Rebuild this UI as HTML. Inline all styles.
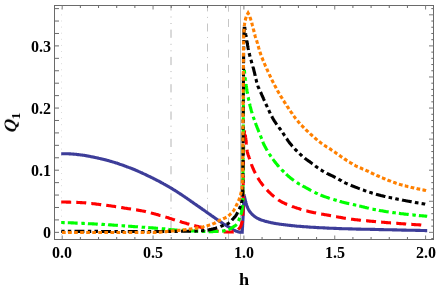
<!DOCTYPE html>
<html><head><meta charset="utf-8"><title>plot</title>
<style>
html,body{margin:0;padding:0;background:#fff;}
body{width:436px;height:290px;position:relative;overflow:hidden;font-family:"Liberation Serif",serif;}
.t{position:absolute;will-change:transform;font-family:"Liberation Serif",serif;font-weight:bold;color:#000;white-space:nowrap;}
.yl{position:absolute;left:10.8px;top:123.1px;width:0;height:0;will-change:transform;}
.yl span.q{position:absolute;transform:translate(-50%,-50%) rotate(-90deg);transform-origin:50% 50%;font-family:"Liberation Serif",serif;font-weight:bold;font-style:italic;font-size:18px;line-height:18px;white-space:nowrap;display:block;}
.yl span.q b{display:inline-block;transform:skewX(-9deg) scaleY(0.97);transform-origin:50% 80%;}
.yl span.q i{display:inline-block;font-style:normal;font-size:13.5px;position:relative;top:3.5px;left:0.6px}
</style></head><body>
<svg width="436" height="290" viewBox="0 0 436 290" style="position:absolute;left:0;top:0">
<rect width="436" height="290" fill="#fff"/>
<clipPath id="c"><rect x="54.5" y="5.5" width="379.0" height="234.0"/></clipPath>
<g clip-path="url(#c)" stroke="#c6c6c6" stroke-width="1" fill="none">
<line x1="61.5" y1="8.3" x2="61.5" y2="239.5" stroke-dasharray="1 5.1" stroke="#dcdcdc"/>
<line x1="171" y1="2.3" x2="171" y2="239.5" stroke-dasharray="8.2 6 1 5.5 1 5.6" stroke="#b4b4b4"/>
<line x1="207.5" y1="3.4" x2="207.5" y2="239.5" stroke-dasharray="8 5.5 1 5.6"/>
<line x1="228.5" y1="3.7" x2="228.5" y2="239.5" stroke-dasharray="8 7.3"/>
<line x1="240.5" y1="5.5" x2="240.5" y2="239.5" stroke="#bebebe"/>
</g>
<g clip-path="url(#c)" fill="none" stroke-linejoin="miter" stroke-miterlimit="10">
<path d="M61.2,153.7 L61.9,153.7 L62.5,153.7 L63.2,153.7 L63.9,153.7 L64.5,153.7 L65.2,153.8 L65.9,153.8 L66.5,153.8 L67.2,153.8 L67.8,153.8 L68.5,153.8 L69.2,153.9 L69.8,153.9 L70.5,153.9 L71.2,154 L71.8,154 L72.5,154 L73.2,154.1 L73.8,154.1 L74.5,154.2 L75.1,154.3 L75.8,154.3 L76.5,154.4 L77.1,154.5 L77.8,154.6 L78.4,154.6 L79.1,154.7 L79.8,154.8 L80.4,154.9 L81.1,155 L81.7,155 L82.4,155.1 L83.1,155.2 L83.7,155.3 L84.4,155.4 L85,155.5 L85.7,155.6 L86.3,155.8 L87,155.9 L87.6,156 L88.3,156.1 L89,156.2 L89.6,156.3 L90.3,156.5 L90.9,156.6 L91.6,156.7 L92.2,156.9 L92.9,157 L93.5,157.1 L94.2,157.3 L94.8,157.4 L95.5,157.5 L96.1,157.7 L96.8,157.8 L97.4,158 L98.1,158.1 L98.7,158.3 L99.4,158.4 L100,158.6 L100.7,158.7 L101.3,158.9 L102,159 L102.6,159.2 L103.3,159.3 L103.9,159.5 L104.5,159.6 L105.2,159.8 L105.8,160 L106.5,160.1 L107.1,160.3 L107.8,160.5 L108.4,160.6 L109,160.8 L109.7,161 L110.3,161.2 L111,161.4 L111.6,161.5 L112.2,161.7 L112.9,161.9 L113.5,162.1 L114.1,162.3 L114.8,162.5 L115.4,162.7 L116,162.9 L116.7,163.1 L117.3,163.3 L117.9,163.6 L118.6,163.8 L119.2,164 L119.8,164.2 L120.5,164.4 L121.1,164.6 L121.7,164.9 L122.4,165.1 L123,165.3 L123.6,165.5 L124.2,165.7 L124.9,166 L125.5,166.2 L126.1,166.4 L126.7,166.7 L127.4,166.9 L128,167.1 L128.6,167.4 L129.2,167.6 L129.8,167.8 L130.5,168.1 L131.1,168.3 L131.7,168.5 L132.3,168.8 L132.9,169 L133.5,169.3 L134.2,169.5 L134.8,169.8 L135.4,170 L136,170.3 L136.6,170.6 L137.2,170.8 L137.8,171.1 L138.4,171.4 L139,171.6 L139.6,171.9 L140.2,172.2 L140.9,172.5 L141.5,172.7 L142.1,173 L142.7,173.3 L143.3,173.6 L143.9,173.9 L144.5,174.1 L145.1,174.4 L145.7,174.7 L146.3,175 L146.9,175.3 L147.5,175.6 L148.1,175.9 L148.7,176.2 L149.3,176.4 L149.9,176.7 L150.5,177 L151.1,177.3 L151.7,177.6 L152.3,177.9 L152.9,178.2 L153.5,178.5 L154.1,178.8 L154.7,179.1 L155.3,179.4 L155.8,179.7 L156.4,180 L157,180.3 L157.6,180.6 L158.2,180.9 L158.8,181.2 L159.4,181.5 L160,181.8 L160.5,182.2 L161.1,182.5 L161.7,182.8 L162.3,183.1 L162.9,183.4 L163.5,183.8 L164,184.1 L164.6,184.4 L165.2,184.7 L165.8,185.1 L166.4,185.4 L166.9,185.7 L167.5,186 L168.1,186.4 L168.7,186.7 L169.2,187 L169.8,187.4 L170.4,187.7 L171,188 L171.5,188.4 L172.1,188.7 L172.7,189.1 L173.2,189.4 L173.8,189.8 L174.4,190.1 L174.9,190.5 L175.5,190.8 L176.1,191.2 L176.6,191.5 L177.2,191.9 L177.7,192.2 L178.3,192.6 L178.9,193 L179.4,193.3 L180,193.7 L180.5,194.1 L181.1,194.4 L181.6,194.8 L182.2,195.2 L182.7,195.5 L183.3,195.9 L183.8,196.3 L184.4,196.6 L184.9,197 L185.5,197.4 L186,197.8 L186.6,198.1 L187.1,198.5 L187.7,198.9 L188.2,199.3 L188.8,199.7 L189.3,200 L189.9,200.4 L190.4,200.8 L190.9,201.2 L191.5,201.6 L192,201.9 L192.6,202.3 L193.1,202.7 L193.7,203.1 L194.2,203.5 L194.8,203.9 L195.3,204.2 L195.9,204.6 L196.4,205 L196.9,205.4 L197.5,205.8 L198,206.1 L198.6,206.5 L199.1,206.9 L199.7,207.3 L200.2,207.7 L200.8,208 L201.3,208.4 L201.9,208.8 L202.4,209.2 L202.9,209.6 L203.5,209.9 L204,210.3 L204.6,210.7 L205.1,211.1 L205.7,211.5 L206.2,211.8 L206.7,212.2 L207.3,212.6 L207.8,213 L208.4,213.4 L208.9,213.8 L209.5,214.2 L210,214.5 L210.5,214.9 L211.1,215.3 L211.6,215.7 L212.2,216.1 L212.7,216.5 L213.3,216.8 L213.8,217.2 L214.3,217.6 L214.9,218 L215.4,218.4 L216,218.7 L216.5,219.1 L217.1,219.5 L217.6,219.9 L218.2,220.3 L218.7,220.6 L219.3,221 L219.8,221.4 L220.4,221.7 L220.9,222.1 L221.5,222.5 L222,222.9 L222.6,223.2 L223.1,223.6 L223.7,224 L224.2,224.3 L224.8,224.7 L225.4,225 L225.9,225.4 L226.5,225.7 L227.1,226 L227.7,226.4 L228.2,226.7 L228.8,227 L229.4,227.4 L230,227.7 L230.5,228 L231.1,228.4 L231.7,228.7 L232.2,229.1 L232.8,229.5 L233.4,229.8 L233.9,230.1 L234.5,230.4 L235.1,230.7 L235.7,231 L236.4,231.2 L237,231.4 L237.6,231.7 L238.3,231.8 L238.9,232 L239.6,232.2 L240.2,232.3 L240.9,232.3 L241.5,232.3 L242.2,232.3 L242.2,231.6 L242.3,231 L242.3,230.3 L242.4,229.6 L242.4,229 L242.4,228.3 L242.5,227.7 L242.5,227 L242.6,226.3 L242.6,225.7 L242.6,225 L242.7,224.3 L242.7,223.7 L242.7,223 L242.8,222.4 L242.8,221.7 L242.9,221 L242.9,220.4 L242.9,219.7 L243,219 L243,218.4 L243,217.7 L243.1,217.1 L243.1,216.4 L243.1,215.7 L243.2,215.1 L243.2,214.4 L243.2,213.7 L243.3,213.1 L243.3,212.4 L243.3,211.7 L243.4,211.1 L243.4,210.4 L243.4,209.8 L243.5,209.1 L243.5,208.4 L243.5,207.8 L243.6,207.1 L243.6,206.4 L243.6,205.8 L243.6,205.1 L243.7,204.5 L243.7,203.8 L243.7,203.1 L243.8,202.5 L243.8,201.8 L243.8,201.1 L243.9,200.5 L243.9,199.8 L243.9,199.1 L243.9,198.5 L244,197.8 L244,197.2 L244,196.5 L244,195.8 L244.1,195.2 L244.1,194.5 L244.2,195.2 L244.3,195.8 L244.4,196.5 L244.6,197.1 L244.7,197.8 L244.9,198.4 L245,199.1 L245.2,199.7 L245.3,200.4 L245.5,201 L245.7,201.7 L245.8,202.3 L246,203 L246.2,203.6 L246.4,204.2 L246.6,204.9 L246.8,205.5 L247,206.1 L247.2,206.8 L247.5,207.4 L247.7,208 L248,208.6 L248.3,209.2 L248.6,209.8 L249,210.4 L249.3,210.9 L249.7,211.5 L250.1,212 L250.5,212.5 L250.9,213 L251.4,213.5 L251.8,214 L252.3,214.5 L252.8,214.9 L253.3,215.4 L253.8,215.8 L254.3,216.2 L254.9,216.6 L255.4,217 L256,217.4 L256.5,217.7 L257.1,218.1 L257.7,218.4 L258.3,218.7 L258.9,219 L259.5,219.3 L260.1,219.5 L260.7,219.8 L261.3,220 L262,220.2 L262.6,220.4 L263.2,220.6 L263.9,220.8 L264.5,221 L265.2,221.2 L265.8,221.4 L266.5,221.5 L267.1,221.7 L267.8,221.8 L268.4,222 L269.1,222.2 L269.7,222.3 L270.4,222.5 L271,222.6 L271.7,222.7 L272.3,222.9 L273,223 L273.6,223.1 L274.3,223.2 L274.9,223.4 L275.6,223.5 L276.2,223.6 L276.9,223.7 L277.6,223.8 L278.2,223.9 L278.9,224 L279.5,224.1 L280.2,224.2 L280.9,224.3 L281.5,224.4 L282.2,224.5 L282.8,224.5 L283.5,224.6 L284.2,224.7 L284.8,224.8 L285.5,224.9 L286.1,225 L286.8,225 L287.5,225.1 L288.1,225.2 L288.8,225.3 L289.4,225.4 L290.1,225.4 L290.8,225.5 L291.4,225.6 L292.1,225.6 L292.8,225.7 L293.4,225.8 L294.1,225.8 L294.7,225.9 L295.4,226 L296.1,226 L296.7,226.1 L297.4,226.2 L298.1,226.2 L298.7,226.3 L299.4,226.3 L300.1,226.4 L300.7,226.4 L301.4,226.5 L302,226.5 L302.7,226.6 L303.4,226.6 L304,226.7 L304.7,226.7 L305.4,226.8 L306,226.8 L306.7,226.9 L307.4,226.9 L308,227 L308.7,227 L309.4,227.1 L310,227.1 L310.7,227.2 L311.3,227.2 L312,227.2 L312.7,227.3 L313.3,227.3 L314,227.4 L314.7,227.4 L315.3,227.4 L316,227.5 L316.7,227.5 L317.3,227.6 L318,227.6 L318.7,227.6 L319.3,227.7 L320,227.7 L320.7,227.7 L321.3,227.8 L322,227.8 L322.7,227.8 L323.3,227.9 L324,227.9 L324.7,227.9 L325.3,228 L326,228 L326.6,228 L327.3,228.1 L328,228.1 L328.6,228.1 L329.3,228.2 L330,228.2 L330.6,228.2 L331.3,228.2 L332,228.3 L332.6,228.3 L333.3,228.3 L334,228.4 L334.6,228.4 L335.3,228.4 L336,228.4 L336.6,228.5 L337.3,228.5 L338,228.5 L338.6,228.5 L339.3,228.6 L340,228.6 L340.6,228.6 L341.3,228.6 L342,228.7 L342.6,228.7 L343.3,228.7 L344,228.7 L344.6,228.7 L345.3,228.8 L346,228.8 L346.6,228.8 L347.3,228.8 L347.9,228.8 L348.6,228.9 L349.3,228.9 L349.9,228.9 L350.6,228.9 L351.3,228.9 L351.9,228.9 L352.6,229 L353.3,229 L353.9,229 L354.6,229 L355.3,229 L355.9,229 L356.6,229.1 L357.3,229.1 L357.9,229.1 L358.6,229.1 L359.3,229.1 L359.9,229.1 L360.6,229.1 L361.3,229.2 L361.9,229.2 L362.6,229.2 L363.3,229.2 L363.9,229.2 L364.6,229.2 L365.3,229.2 L365.9,229.3 L366.6,229.3 L367.3,229.3 L367.9,229.3 L368.6,229.3 L369.3,229.3 L369.9,229.3 L370.6,229.4 L371.3,229.4 L371.9,229.4 L372.6,229.4 L373.3,229.4 L373.9,229.4 L374.6,229.4 L375.3,229.5 L375.9,229.5 L376.6,229.5 L377.3,229.5 L377.9,229.5 L378.6,229.5 L379.2,229.6 L379.9,229.6 L380.6,229.6 L381.2,229.6 L381.9,229.6 L382.6,229.6 L383.2,229.6 L383.9,229.7 L384.6,229.7 L385.2,229.7 L385.9,229.7 L386.6,229.7 L387.2,229.7 L387.9,229.7 L388.6,229.8 L389.2,229.8 L389.9,229.8 L390.6,229.8 L391.2,229.8 L391.9,229.8 L392.6,229.9 L393.2,229.9 L393.9,229.9 L394.6,229.9 L395.2,229.9 L395.9,229.9 L396.6,229.9 L397.2,230 L397.9,230 L398.6,230 L399.2,230 L399.9,230 L400.6,230 L401.2,230 L401.9,230.1 L402.6,230.1 L403.2,230.1 L403.9,230.1 L404.6,230.1 L405.2,230.1 L405.9,230.1 L406.6,230.2 L407.2,230.2 L407.9,230.2 L408.6,230.2 L409.2,230.2 L409.9,230.2 L410.6,230.2 L411.2,230.3 L411.9,230.3 L412.5,230.3 L413.2,230.3 L413.9,230.3 L414.5,230.3 L415.2,230.3 L415.9,230.4 L416.5,230.4 L417.2,230.4 L417.9,230.4 L418.5,230.4 L419.2,230.4 L419.9,230.4 L420.5,230.5 L421.2,230.5 L421.9,230.5 L422.5,230.5 L423.2,230.5 L423.9,230.5 L424.5,230.5 L425.2,230.6 L425.9,230.6 L426.5,230.6 L427.2,230.6" stroke="#3d3d99" stroke-width="3.1"/>
<path d="M61.2,202 L61.9,202 L62.5,202 L63.2,202 L63.9,202 L64.5,202 L65.2,202 L65.9,202 L66.5,202.1 L67.2,202.1 L67.9,202.1 L68.5,202.1 L69.2,202.1 L69.9,202.1 L70.5,202.2 L71.2,202.2 L71.9,202.2 L72.5,202.2 L73.2,202.3 L73.8,202.3 L74.5,202.3 L75.2,202.3 L75.8,202.4 L76.5,202.4 L77.2,202.4 L77.8,202.5 L78.5,202.5 L79.2,202.5 L79.8,202.5 L80.5,202.6 L81.2,202.6 L81.8,202.6 L82.5,202.7 L83.1,202.7 L83.8,202.8 L84.5,202.8 L85.1,202.9 L85.8,202.9 L86.5,203 L87.1,203.1 L87.8,203.1 L88.4,203.2 L89.1,203.3 L89.8,203.3 L90.4,203.4 L91.1,203.5 L91.8,203.5 L92.4,203.6 L93.1,203.7 L93.7,203.8 L94.4,203.8 L95.1,203.9 L95.7,204 L96.4,204.1 L97.1,204.2 L97.7,204.2 L98.4,204.3 L99,204.4 L99.7,204.5 L100.4,204.6 L101,204.6 L101.7,204.7 L102.3,204.8 L103,204.9 L103.7,205 L104.3,205 L105,205.1 L105.6,205.2 L106.3,205.3 L107,205.4 L107.6,205.5 L108.3,205.5 L108.9,205.6 L109.6,205.7 L110.3,205.8 L110.9,205.9 L111.6,206 L112.2,206.1 L112.9,206.2 L113.5,206.3 L114.2,206.4 L114.9,206.5 L115.5,206.6 L116.2,206.7 L116.8,206.8 L117.5,206.9 L118.2,207 L118.8,207.1 L119.5,207.2 L120.1,207.3 L120.8,207.4 L121.4,207.5 L122.1,207.6 L122.8,207.7 L123.4,207.9 L124.1,208 L124.7,208.1 L125.4,208.2 L126,208.3 L126.7,208.4 L127.4,208.5 L128,208.6 L128.7,208.7 L129.3,208.8 L130,208.9 L130.6,209 L131.3,209.1 L132,209.2 L132.6,209.3 L133.3,209.4 L133.9,209.5 L134.6,209.6 L135.2,209.7 L135.9,209.8 L136.6,209.9 L137.2,210 L137.9,210.1 L138.5,210.2 L139.2,210.4 L139.8,210.5 L140.5,210.6 L141.2,210.7 L141.8,210.8 L142.5,210.9 L143.1,211.1 L143.8,211.2 L144.4,211.3 L145.1,211.5 L145.7,211.6 L146.4,211.8 L147,211.9 L147.7,212.1 L148.3,212.2 L148.9,212.4 L149.6,212.6 L150.2,212.7 L150.9,212.9 L151.5,213.1 L152.2,213.3 L152.8,213.4 L153.5,213.6 L154.1,213.8 L154.7,213.9 L155.4,214.1 L156,214.3 L156.7,214.5 L157.3,214.6 L158,214.8 L158.6,215 L159.2,215.2 L159.9,215.4 L160.5,215.5 L161.2,215.7 L161.8,215.9 L162.4,216.1 L163.1,216.3 L163.7,216.5 L164.3,216.7 L165,216.8 L165.6,217 L166.3,217.2 L166.9,217.4 L167.5,217.6 L168.2,217.8 L168.8,218 L169.4,218.2 L170.1,218.4 L170.7,218.6 L171.3,218.8 L172,219.1 L172.6,219.3 L173.2,219.5 L173.9,219.7 L174.5,219.8 L175.1,220 L175.8,220.2 L176.4,220.4 L177,220.6 L177.7,220.8 L178.3,221 L179,221.2 L179.6,221.4 L180.2,221.6 L180.9,221.8 L181.5,222 L182.1,222.2 L182.8,222.4 L183.4,222.6 L184.1,222.8 L184.7,222.9 L185.3,223.1 L186,223.3 L186.6,223.5 L187.2,223.7 L187.9,223.9 L188.5,224 L189.2,224.2 L189.8,224.4 L190.5,224.6 L191.1,224.7 L191.7,224.9 L192.4,225.1 L193,225.2 L193.7,225.4 L194.3,225.6 L195,225.7 L195.6,225.9 L196.3,226.1 L196.9,226.2 L197.5,226.4 L198.2,226.5 L198.8,226.7 L199.5,226.9 L200.1,227 L200.8,227.2 L201.4,227.4 L202.1,227.5 L202.7,227.7 L203.4,227.8 L204,228 L204.6,228.2 L205.3,228.3 L205.9,228.5 L206.6,228.7 L207.2,228.8 L207.9,229 L208.5,229.1 L209.2,229.3 L209.8,229.4 L210.5,229.6 L211.1,229.7 L211.8,229.8 L212.4,230 L213.1,230.1 L213.7,230.3 L214.4,230.4 L215,230.5 L215.7,230.7 L216.3,230.8 L217,231 L217.6,231.1 L218.3,231.2 L219,231.3 L219.6,231.4 L220.3,231.5 L220.9,231.6 L221.6,231.7 L222.2,231.7 L222.9,231.8 L223.6,231.8 L224.2,231.9 L224.9,231.9 L225.6,231.9 L226.2,232 L226.9,232 L227.6,232 L228.2,232 L228.9,232 L229.6,232 L230.3,232 L230.9,232 L231.6,232 L232.3,231.9 L232.9,231.9 L233.5,231.9 L234.2,231.8 L234.8,231.6 L235.5,231.3 L236.1,231 L236.7,230.6 L237.3,230.2 L237.8,229.8 L238.3,229.3 L238.8,228.9 L239.2,228.5 L239.6,227.9 L240,227.4 L240.4,226.8 L240.7,226.2 L241,225.6 L241.2,224.9 L241.4,224.3 L241.6,223.7 L241.8,223.1 L242,222.4 L242.2,221.7 L242.3,221.1 L242.4,220.4 L242.5,219.8 L242.5,219.1 L242.6,218.5 L242.7,217.8 L242.7,217.1 L242.8,216.5 L242.8,215.8 L242.8,215.1 L242.9,214.5 L242.9,213.8 L242.9,213.1 L242.9,212.5 L242.9,211.8 L243,211.1 L243,210.5 L243,209.8 L243,209.1 L243,208.5 L243,207.8 L243,207.1 L243,206.5 L243,205.8 L243,205.2 L243,204.5 L243,203.8 L243.1,203.2 L243.1,202.5 L243.1,201.8 L243.1,201.2 L243.1,200.5 L243.1,199.8 L243.1,199.2 L243.1,198.5 L243.1,197.8 L243.1,197.2 L243.1,196.5 L243.1,195.8 L243.1,195.2 L243.1,194.5 L243.1,193.8 L243.1,193.2 L243.1,192.5 L243.2,191.8 L243.2,191.2 L243.2,190.5 L243.2,189.8 L243.2,189.2 L243.2,188.5 L243.2,187.8 L243.2,187.2 L243.2,186.5 L243.2,185.9 L243.2,185.2 L243.2,184.5 L243.2,183.9 L243.2,183.2 L243.2,182.5 L243.2,181.9 L243.2,181.2 L243.2,180.5 L243.2,179.9 L243.2,179.2 L243.2,178.5 L243.2,177.9 L243.3,177.2 L243.3,176.5 L243.3,175.9 L243.3,175.2 L243.3,174.5 L243.3,173.9 L243.3,173.2 L243.3,172.5 L243.3,171.9 L243.3,171.2 L243.3,170.5 L243.3,169.9 L243.3,169.2 L243.3,168.6 L243.3,167.9 L243.3,167.2 L243.3,166.6 L243.3,165.9 L243.3,165.2 L243.4,164.6 L243.4,163.9 L243.4,163.2 L243.4,162.6 L243.4,161.9 L243.4,161.2 L243.4,160.6 L243.4,159.9 L243.4,159.2 L243.4,158.6 L243.4,157.9 L243.4,157.2 L243.4,156.6 L243.5,155.9 L243.5,155.2 L243.5,154.6 L243.5,153.9 L243.5,153.2 L243.5,152.6 L243.5,151.9 L243.5,151.2 L243.5,150.6 L243.5,149.9 L243.6,149.2 L243.6,148.6 L243.6,147.9 L243.6,147.3 L243.6,146.6 L243.6,145.9 L243.6,145.3 L243.7,144.6 L243.7,143.9 L243.7,143.3 L243.7,142.6 L243.7,141.9 L243.8,141.3 L243.8,140.6 L243.8,139.9 L243.8,139.3 L243.9,138.6 L243.9,138 L244,137.3 L244,136.6 L244.1,136 L244.1,135.3 L244.2,134.6 L244.3,134 L244.3,133.3 L244.4,132.6 L244.5,132 L244.5,131.3 L244.6,130.7 L244.7,130 L244.8,130.7 L244.9,131.3 L244.9,132 L245,132.6 L245.1,133.3 L245.2,134 L245.3,134.6 L245.4,135.3 L245.4,135.9 L245.5,136.6 L245.6,137.3 L245.7,137.9 L245.8,138.6 L245.8,139.2 L245.9,139.9 L246,140.6 L246.1,141.2 L246.2,141.9 L246.2,142.6 L246.3,143.2 L246.4,143.9 L246.5,144.5 L246.5,145.2 L246.6,145.9 L246.7,146.5 L246.7,147.2 L246.8,147.9 L246.9,148.5 L246.9,149.2 L247,149.8 L247.1,150.5 L247.2,151.2 L247.3,151.8 L247.4,152.4 L247.6,153.1 L247.8,153.7 L248,154.4 L248.2,155 L248.4,155.6 L248.6,156.3 L248.9,156.9 L249.1,157.5 L249.3,158.1 L249.6,158.8 L249.8,159.4 L250,160 L250.2,160.7 L250.4,161.3 L250.6,161.9 L250.8,162.6 L251.1,163.2 L251.3,163.8 L251.5,164.5 L251.7,165.1 L251.9,165.7 L252.2,166.3 L252.4,166.9 L252.7,167.5 L252.9,168.2 L253.2,168.8 L253.5,169.4 L253.7,170 L254,170.6 L254.3,171.2 L254.6,171.8 L254.9,172.4 L255.2,173 L255.5,173.6 L255.8,174.2 L256.1,174.8 L256.4,175.4 L256.7,176 L257.1,176.6 L257.4,177.1 L257.7,177.7 L258.1,178.3 L258.4,178.8 L258.7,179.4 L259.1,179.9 L259.5,180.5 L259.8,181 L260.2,181.6 L260.6,182.1 L261,182.7 L261.4,183.2 L261.8,183.8 L262.2,184.3 L262.6,184.8 L263,185.4 L263.4,185.9 L263.9,186.4 L264.3,186.9 L264.7,187.4 L265.2,187.9 L265.6,188.4 L266.1,188.9 L266.5,189.4 L267,189.9 L267.4,190.4 L267.9,190.9 L268.3,191.3 L268.8,191.8 L269.3,192.3 L269.7,192.7 L270.2,193.2 L270.7,193.6 L271.2,194.1 L271.7,194.6 L272.2,195 L272.7,195.5 L273.2,195.9 L273.7,196.3 L274.3,196.8 L274.8,197.2 L275.3,197.6 L275.8,198 L276.4,198.4 L276.9,198.8 L277.5,199.2 L278,199.6 L278.5,200 L279.1,200.4 L279.7,200.7 L280.2,201 L280.8,201.4 L281.3,201.7 L281.9,202 L282.5,202.3 L283.1,202.6 L283.7,202.9 L284.3,203.2 L284.9,203.5 L285.5,203.7 L286.1,204 L286.7,204.3 L287.3,204.5 L287.9,204.8 L288.5,205 L289.2,205.3 L289.8,205.5 L290.4,205.8 L291.1,206 L291.7,206.2 L292.3,206.5 L293,206.7 L293.6,206.9 L294.2,207.1 L294.9,207.4 L295.5,207.6 L296.1,207.8 L296.7,208 L297.4,208.2 L298,208.4 L298.6,208.6 L299.3,208.8 L299.9,209 L300.5,209.2 L301.2,209.4 L301.8,209.6 L302.5,209.8 L303.1,210 L303.7,210.2 L304.4,210.3 L305,210.5 L305.7,210.7 L306.3,210.9 L307,211 L307.6,211.2 L308.3,211.3 L308.9,211.5 L309.5,211.7 L310.2,211.8 L310.8,212 L311.5,212.1 L312.1,212.3 L312.8,212.4 L313.4,212.5 L314.1,212.7 L314.7,212.8 L315.4,212.9 L316,213 L316.7,213.2 L317.4,213.3 L318,213.4 L318.7,213.5 L319.3,213.7 L320,213.8 L320.6,213.9 L321.3,214 L321.9,214.1 L322.6,214.2 L323.3,214.3 L323.9,214.5 L324.6,214.6 L325.2,214.7 L325.9,214.8 L326.5,214.9 L327.2,215 L327.8,215.1 L328.5,215.3 L329.2,215.4 L329.8,215.5 L330.5,215.6 L331.1,215.7 L331.8,215.8 L332.4,216 L333.1,216.1 L333.7,216.2 L334.4,216.3 L335.1,216.5 L335.7,216.6 L336.4,216.7 L337,216.8 L337.7,216.9 L338.3,217.1 L339,217.2 L339.6,217.3 L340.3,217.4 L341,217.5 L341.6,217.6 L342.3,217.8 L342.9,217.9 L343.6,218 L344.2,218.1 L344.9,218.2 L345.5,218.3 L346.2,218.4 L346.9,218.5 L347.5,218.6 L348.2,218.7 L348.8,218.8 L349.5,218.9 L350.1,219 L350.8,219.1 L351.5,219.2 L352.1,219.3 L352.8,219.3 L353.4,219.4 L354.1,219.5 L354.8,219.6 L355.4,219.7 L356.1,219.7 L356.7,219.8 L357.4,219.9 L358.1,220 L358.7,220 L359.4,220.1 L360.1,220.2 L360.7,220.2 L361.4,220.3 L362,220.4 L362.7,220.4 L363.4,220.5 L364,220.6 L364.7,220.6 L365.4,220.7 L366,220.8 L366.7,220.8 L367.3,220.9 L368,220.9 L368.7,221 L369.3,221.1 L370,221.1 L370.7,221.2 L371.3,221.2 L372,221.3 L372.6,221.4 L373.3,221.4 L374,221.5 L374.6,221.5 L375.3,221.6 L376,221.7 L376.6,221.7 L377.3,221.8 L378,221.8 L378.6,221.9 L379.3,222 L379.9,222 L380.6,222.1 L381.3,222.1 L381.9,222.2 L382.6,222.2 L383.3,222.3 L383.9,222.3 L384.6,222.4 L385.2,222.5 L385.9,222.5 L386.6,222.6 L387.2,222.6 L387.9,222.7 L388.6,222.7 L389.2,222.8 L389.9,222.8 L390.6,222.9 L391.2,222.9 L391.9,223 L392.5,223 L393.2,223.1 L393.9,223.1 L394.5,223.2 L395.2,223.2 L395.9,223.3 L396.5,223.3 L397.2,223.4 L397.9,223.4 L398.5,223.5 L399.2,223.5 L399.8,223.6 L400.5,223.6 L401.2,223.7 L401.8,223.7 L402.5,223.8 L403.2,223.8 L403.8,223.9 L404.5,223.9 L405.2,224 L405.8,224 L406.5,224.1 L407.1,224.1 L407.8,224.2 L408.5,224.2 L409.1,224.2 L409.8,224.3 L410.5,224.3 L411.1,224.4 L411.8,224.4 L412.5,224.5 L413.1,224.5 L413.8,224.5 L414.4,224.6 L415.1,224.6 L415.8,224.7 L416.4,224.7 L417.1,224.8 L417.8,224.8 L418.4,224.8 L419.1,224.9 L419.8,224.9 L420.4,225 L421.1,225 L421.8,225.1 L422.4,225.1 L423.1,225.2 L423.7,225.2 L424.4,225.3 L425.1,225.3 L425.7,225.4 L426.4,225.4" stroke="#ff0000" stroke-width="3.1" stroke-dasharray="10 5.1 10 5.1 10 5.1 10 5.1 10 5.1 10 5.1 10 5.1 10 5.1 10 5.1 10 5.1 10 5.1 10 5.1 10 5.1 10 5.1 10 5.1 10 5.1 10 5.1 10 5.1 10 4.95 10 5.15 10 5.15 10 5.2 10 5.15 10 5.2 10 5.15 10 5.15 10 5.2 10 5.15 10 5.2 10 5.15 10 5.15 10 5.2 10 5.15 10 5.2 0 9999"/>
<path d="M61.2,222.5 L61.9,222.5 L62.5,222.5 L63.2,222.6 L63.9,222.6 L64.5,222.6 L65.2,222.6 L65.9,222.7 L66.5,222.7 L67.2,222.7 L67.9,222.7 L68.5,222.8 L69.2,222.8 L69.9,222.8 L70.5,222.8 L71.2,222.9 L71.8,222.9 L72.5,222.9 L73.2,222.9 L73.8,223 L74.5,223 L75.2,223 L75.8,223.1 L76.5,223.1 L77.2,223.1 L77.8,223.1 L78.5,223.2 L79.2,223.2 L79.8,223.2 L80.5,223.3 L81.2,223.3 L81.8,223.3 L82.5,223.4 L83.2,223.4 L83.8,223.4 L84.5,223.5 L85.2,223.5 L85.8,223.5 L86.5,223.6 L87.1,223.6 L87.8,223.6 L88.5,223.7 L89.1,223.7 L89.8,223.7 L90.5,223.8 L91.1,223.8 L91.8,223.8 L92.5,223.9 L93.1,223.9 L93.8,223.9 L94.5,224 L95.1,224 L95.8,224 L96.5,224.1 L97.1,224.1 L97.8,224.2 L98.5,224.2 L99.1,224.2 L99.8,224.3 L100.4,224.3 L101.1,224.3 L101.8,224.4 L102.4,224.4 L103.1,224.4 L103.8,224.5 L104.4,224.5 L105.1,224.6 L105.8,224.6 L106.4,224.6 L107.1,224.7 L107.8,224.7 L108.4,224.8 L109.1,224.8 L109.7,224.9 L110.4,224.9 L111.1,224.9 L111.7,225 L112.4,225 L113.1,225.1 L113.7,225.1 L114.4,225.2 L115.1,225.2 L115.7,225.3 L116.4,225.3 L117.1,225.4 L117.7,225.4 L118.4,225.5 L119,225.5 L119.7,225.6 L120.4,225.6 L121,225.7 L121.7,225.7 L122.4,225.8 L123,225.8 L123.7,225.9 L124.4,225.9 L125,226 L125.7,226 L126.4,226.1 L127,226.1 L127.7,226.2 L128.3,226.2 L129,226.3 L129.7,226.3 L130.3,226.3 L131,226.4 L131.7,226.4 L132.3,226.5 L133,226.5 L133.7,226.6 L134.3,226.6 L135,226.7 L135.7,226.7 L136.3,226.8 L137,226.8 L137.6,226.8 L138.3,226.9 L139,226.9 L139.6,227 L140.3,227 L141,227.1 L141.6,227.1 L142.3,227.2 L143,227.2 L143.6,227.2 L144.3,227.3 L145,227.3 L145.6,227.4 L146.3,227.4 L146.9,227.5 L147.6,227.5 L148.3,227.6 L148.9,227.6 L149.6,227.7 L150.3,227.7 L150.9,227.8 L151.6,227.8 L152.3,227.9 L152.9,227.9 L153.6,228 L154.2,228 L154.9,228.1 L155.6,228.1 L156.2,228.2 L156.9,228.2 L157.6,228.3 L158.2,228.3 L158.9,228.4 L159.6,228.4 L160.2,228.5 L160.9,228.6 L161.5,228.6 L162.2,228.7 L162.9,228.7 L163.5,228.8 L164.2,228.9 L164.9,228.9 L165.5,229 L166.2,229.1 L166.8,229.2 L167.5,229.2 L168.2,229.3 L168.8,229.4 L169.5,229.5 L170.2,229.5 L170.8,229.6 L171.5,229.7 L172.1,229.8 L172.8,229.8 L173.5,229.9 L174.1,229.9 L174.8,230 L175.5,230 L176.1,230.1 L176.8,230.1 L177.5,230.2 L178.1,230.2 L178.8,230.2 L179.4,230.3 L180.1,230.3 L180.8,230.4 L181.4,230.4 L182.1,230.4 L182.8,230.5 L183.4,230.5 L184.1,230.5 L184.8,230.6 L185.4,230.6 L186.1,230.6 L186.8,230.7 L187.4,230.7 L188.1,230.7 L188.8,230.8 L189.4,230.8 L190.1,230.8 L190.8,230.9 L191.4,230.9 L192.1,230.9 L192.7,230.9 L193.4,231 L194.1,231 L194.7,231 L195.4,231.1 L196.1,231.1 L196.7,231.1 L197.4,231.1 L198.1,231.2 L198.7,231.2 L199.4,231.2 L200.1,231.3 L200.7,231.3 L201.4,231.3 L202.1,231.4 L202.7,231.4 L203.4,231.4 L204.1,231.5 L204.7,231.5 L205.4,231.5 L206.1,231.6 L206.7,231.6 L207.4,231.6 L208.1,231.6 L208.7,231.6 L209.4,231.6 L210,231.6 L210.7,231.6 L211.4,231.6 L212,231.6 L212.7,231.6 L213.4,231.5 L214,231.5 L214.7,231.5 L215.4,231.5 L216,231.5 L216.7,231.4 L217.4,231.4 L218,231.4 L218.7,231.4 L219.4,231.3 L220,231.3 L220.7,231.2 L221.4,231.1 L222.1,231.1 L222.7,231 L223.4,230.9 L224.1,230.7 L224.7,230.6 L225.4,230.5 L226,230.4 L226.7,230.2 L227.3,230.1 L227.9,229.9 L228.5,229.7 L229.1,229.5 L229.7,229.2 L230.3,228.8 L230.9,228.4 L231.4,228 L232,227.7 L232.5,227.3 L233.1,226.9 L233.7,226.6 L234.3,226.2 L234.9,225.9 L235.4,225.5 L235.9,225.1 L236.3,224.6 L236.7,224.1 L237.1,223.6 L237.4,223 L237.7,222.4 L238,221.8 L238.3,221.1 L238.6,220.5 L238.9,219.9 L239.1,219.3 L239.4,218.7 L239.6,218.1 L239.8,217.4 L240.1,216.8 L240.3,216.2 L240.5,215.5 L240.7,214.9 L240.9,214.3 L241.1,213.7 L241.3,213 L241.5,212.4 L241.7,211.7 L241.8,211.1 L241.9,210.4 L242.1,209.8 L242.2,209.1 L242.3,208.5 L242.4,207.8 L242.4,207.1 L242.5,206.5 L242.5,205.8 L242.6,205.1 L242.6,204.5 L242.7,203.8 L242.7,203.2 L242.8,202.5 L242.8,201.8 L242.8,201.2 L242.8,200.5 L242.8,199.8 L242.8,199.2 L242.8,198.5 L242.8,197.8 L242.8,197.2 L242.9,196.5 L242.9,195.8 L242.9,195.2 L242.9,194.5 L242.9,193.8 L242.9,193.2 L242.9,192.5 L242.9,191.8 L242.9,191.2 L242.9,190.5 L242.9,189.8 L242.9,189.2 L242.9,188.5 L242.9,187.8 L242.9,187.2 L242.9,186.5 L242.9,185.8 L242.9,185.2 L242.9,184.5 L242.9,183.8 L242.9,183.2 L242.9,182.5 L242.9,181.8 L242.9,181.2 L243,180.5 L243,179.8 L243,179.2 L243,178.5 L243,177.9 L243,177.2 L243,176.5 L243,175.9 L243,175.2 L243,174.5 L243,173.9 L243,173.2 L243,172.5 L243,171.9 L243,171.2 L243,170.5 L243,169.9 L243,169.2 L243,168.5 L243,167.9 L243,167.2 L243,166.5 L243,165.9 L243,165.2 L243,164.5 L243,163.9 L243,163.2 L243,162.5 L243,161.9 L243.1,161.2 L243.1,160.5 L243.1,159.9 L243.1,159.2 L243.1,158.5 L243.1,157.9 L243.1,157.2 L243.1,156.5 L243.1,155.9 L243.1,155.2 L243.1,154.5 L243.1,153.9 L243.1,153.2 L243.1,152.5 L243.1,151.9 L243.1,151.2 L243.1,150.5 L243.1,149.9 L243.1,149.2 L243.1,148.6 L243.1,147.9 L243.1,147.2 L243.1,146.6 L243.1,145.9 L243.1,145.2 L243.1,144.6 L243.1,143.9 L243.1,143.2 L243.2,142.6 L243.2,141.9 L243.2,141.2 L243.2,140.6 L243.2,139.9 L243.2,139.2 L243.2,138.6 L243.2,137.9 L243.2,137.2 L243.2,136.6 L243.2,135.9 L243.2,135.2 L243.2,134.6 L243.2,133.9 L243.2,133.2 L243.2,132.6 L243.2,131.9 L243.2,131.2 L243.2,130.6 L243.2,129.9 L243.2,129.2 L243.2,128.6 L243.2,127.9 L243.2,127.2 L243.3,126.6 L243.3,125.9 L243.3,125.2 L243.3,124.6 L243.3,123.9 L243.3,123.2 L243.3,122.6 L243.3,121.9 L243.3,121.3 L243.3,120.6 L243.3,119.9 L243.3,119.3 L243.3,118.6 L243.3,117.9 L243.3,117.3 L243.3,116.6 L243.3,115.9 L243.3,115.3 L243.3,114.6 L243.3,113.9 L243.4,113.3 L243.4,112.6 L243.4,111.9 L243.4,111.3 L243.4,110.6 L243.4,109.9 L243.4,109.3 L243.4,108.6 L243.4,107.9 L243.4,107.3 L243.4,106.6 L243.4,105.9 L243.4,105.3 L243.4,104.6 L243.4,103.9 L243.4,103.3 L243.4,102.6 L243.5,101.9 L243.5,101.3 L243.5,100.6 L243.5,99.9 L243.5,99.3 L243.5,98.6 L243.5,97.9 L243.5,97.3 L243.5,96.6 L243.5,95.9 L243.5,95.3 L243.5,94.6 L243.5,94 L243.6,93.3 L243.6,92.6 L243.6,92 L243.6,91.3 L243.6,90.6 L243.6,90 L243.6,89.3 L243.6,88.6 L243.6,88 L243.7,87.3 L243.7,86.6 L243.7,86 L243.7,85.3 L243.7,84.6 L243.7,84 L243.7,83.3 L243.8,82.6 L243.8,82 L243.8,81.3 L243.8,80.6 L243.9,80 L243.9,79.3 L243.9,78.6 L244,78 L244,77.3 L244,76.6 L244.1,76 L244.1,75.3 L244.1,74.7 L244.2,74 L244.2,73.3 L244.2,72.7 L244.3,72 L244.3,71.3 L244.4,70.7 L244.4,70 L244.5,70.7 L244.5,71.3 L244.6,72 L244.6,72.7 L244.7,73.3 L244.8,74 L244.8,74.6 L244.9,75.3 L245,76 L245.1,76.6 L245.1,77.3 L245.2,78 L245.3,78.6 L245.4,79.3 L245.5,79.9 L245.6,80.6 L245.6,81.3 L245.7,81.9 L245.8,82.6 L245.9,83.2 L246,83.9 L246.1,84.5 L246.2,85.2 L246.3,85.9 L246.4,86.5 L246.5,87.2 L246.6,87.8 L246.7,88.5 L246.8,89.1 L246.9,89.8 L247,90.5 L247.1,91.1 L247.2,91.8 L247.3,92.4 L247.4,93.1 L247.5,93.7 L247.7,94.4 L247.8,95 L247.9,95.7 L248,96.4 L248.1,97 L248.3,97.7 L248.4,98.3 L248.5,99 L248.7,99.6 L248.8,100.3 L248.9,100.9 L249.1,101.6 L249.2,102.2 L249.4,102.9 L249.5,103.5 L249.7,104.2 L249.8,104.8 L250,105.5 L250.1,106.1 L250.3,106.8 L250.5,107.4 L250.6,108.1 L250.8,108.7 L251,109.3 L251.1,110 L251.3,110.6 L251.5,111.3 L251.7,111.9 L251.9,112.5 L252.1,113.2 L252.2,113.8 L252.5,114.4 L252.7,115.1 L252.9,115.7 L253.1,116.3 L253.3,117 L253.5,117.6 L253.7,118.2 L254,118.8 L254.2,119.5 L254.4,120.1 L254.6,120.7 L254.9,121.4 L255.1,122 L255.3,122.6 L255.5,123.2 L255.8,123.9 L256,124.5 L256.2,125.1 L256.5,125.7 L256.7,126.3 L256.9,127 L257.2,127.6 L257.4,128.2 L257.7,128.8 L257.9,129.4 L258.2,130.1 L258.4,130.7 L258.7,131.3 L258.9,131.9 L259.2,132.5 L259.4,133.1 L259.7,133.7 L259.9,134.4 L260.2,135 L260.4,135.6 L260.7,136.2 L260.9,136.8 L261.2,137.5 L261.4,138.1 L261.6,138.7 L261.9,139.3 L262.1,140 L262.3,140.6 L262.6,141.2 L262.8,141.8 L263,142.4 L263.3,143.1 L263.6,143.7 L263.8,144.3 L264.1,144.9 L264.4,145.4 L264.7,146 L265,146.6 L265.3,147.2 L265.7,147.8 L266,148.4 L266.3,149 L266.6,149.6 L267,150.1 L267.3,150.7 L267.7,151.3 L268,151.9 L268.4,152.4 L268.7,153 L269.1,153.6 L269.4,154.1 L269.8,154.7 L270.2,155.2 L270.5,155.8 L270.9,156.3 L271.3,156.9 L271.6,157.4 L272,158 L272.4,158.5 L272.8,159.1 L273.2,159.6 L273.6,160.1 L274,160.7 L274.4,161.2 L274.8,161.7 L275.2,162.3 L275.6,162.8 L276,163.3 L276.5,163.8 L276.9,164.3 L277.3,164.8 L277.7,165.4 L278.2,165.9 L278.6,166.4 L279,166.9 L279.5,167.4 L279.9,167.9 L280.4,168.3 L280.8,168.8 L281.3,169.3 L281.7,169.8 L282.2,170.3 L282.7,170.7 L283.1,171.2 L283.6,171.7 L284.1,172.2 L284.6,172.6 L285,173.1 L285.5,173.5 L286,174 L286.5,174.5 L287,174.9 L287.5,175.4 L288,175.8 L288.5,176.3 L289,176.7 L289.5,177.1 L290,177.5 L290.5,178 L291.1,178.4 L291.6,178.8 L292.1,179.2 L292.6,179.6 L293.2,180 L293.7,180.4 L294.2,180.8 L294.8,181.1 L295.3,181.5 L295.9,181.9 L296.4,182.2 L297,182.6 L297.5,182.9 L298.1,183.3 L298.7,183.6 L299.3,184 L299.8,184.3 L300.4,184.6 L301,185 L301.6,185.3 L302.2,185.6 L302.7,186 L303.3,186.3 L303.9,186.6 L304.5,186.9 L305.1,187.2 L305.7,187.6 L306.3,187.9 L306.8,188.2 L307.4,188.5 L308,188.8 L308.6,189.2 L309.2,189.5 L309.8,189.8 L310.3,190.1 L310.9,190.4 L311.5,190.7 L312.1,191.1 L312.7,191.4 L313.3,191.7 L313.9,192 L314.5,192.3 L315.1,192.6 L315.7,192.9 L316.3,193.2 L316.9,193.4 L317.5,193.7 L318.1,194 L318.7,194.3 L319.3,194.5 L319.9,194.8 L320.5,195.1 L321.1,195.3 L321.7,195.5 L322.4,195.8 L323,196 L323.6,196.3 L324.2,196.5 L324.9,196.7 L325.5,196.9 L326.1,197.1 L326.7,197.4 L327.4,197.6 L328,197.8 L328.6,198 L329.3,198.2 L329.9,198.4 L330.5,198.6 L331.2,198.8 L331.8,199 L332.5,199.2 L333.1,199.4 L333.7,199.6 L334.4,199.8 L335,200 L335.6,200.1 L336.3,200.3 L336.9,200.5 L337.6,200.7 L338.2,200.9 L338.8,201.1 L339.5,201.3 L340.1,201.5 L340.8,201.6 L341.4,201.8 L342,202 L342.7,202.2 L343.3,202.3 L344,202.5 L344.6,202.7 L345.3,202.8 L345.9,203 L346.6,203.1 L347.2,203.2 L347.9,203.4 L348.5,203.5 L349.2,203.7 L349.8,203.8 L350.5,203.9 L351.1,204.1 L351.8,204.2 L352.4,204.3 L353.1,204.5 L353.7,204.6 L354.4,204.8 L355,204.9 L355.7,205.1 L356.3,205.2 L357,205.4 L357.6,205.6 L358.2,205.7 L358.9,205.9 L359.5,206 L360.2,206.2 L360.8,206.3 L361.5,206.5 L362.1,206.7 L362.8,206.8 L363.4,207 L364.1,207.1 L364.7,207.3 L365.4,207.5 L366,207.6 L366.7,207.8 L367.3,207.9 L368,208.1 L368.6,208.2 L369.2,208.4 L369.9,208.5 L370.5,208.7 L371.2,208.8 L371.8,209 L372.5,209.1 L373.1,209.2 L373.8,209.4 L374.4,209.5 L375.1,209.6 L375.7,209.8 L376.4,209.9 L377.1,210 L377.7,210.1 L378.4,210.2 L379,210.4 L379.7,210.5 L380.3,210.6 L381,210.7 L381.6,210.8 L382.3,210.9 L382.9,211 L383.6,211.1 L384.3,211.2 L384.9,211.4 L385.6,211.5 L386.2,211.6 L386.9,211.7 L387.5,211.8 L388.2,211.9 L388.9,212 L389.5,212.1 L390.2,212.2 L390.8,212.3 L391.5,212.4 L392.2,212.5 L392.8,212.6 L393.5,212.6 L394.1,212.7 L394.8,212.8 L395.4,212.9 L396.1,213 L396.8,213.1 L397.4,213.2 L398.1,213.3 L398.7,213.3 L399.4,213.4 L400.1,213.5 L400.7,213.6 L401.4,213.7 L402,213.8 L402.7,213.8 L403.4,213.9 L404,214 L404.7,214.1 L405.3,214.1 L406,214.2 L406.7,214.3 L407.3,214.4 L408,214.4 L408.7,214.5 L409.3,214.6 L410,214.7 L410.6,214.7 L411.3,214.8 L412,214.9 L412.6,214.9 L413.3,215 L413.9,215.1 L414.6,215.1 L415.3,215.2 L415.9,215.3 L416.6,215.3 L417.3,215.4 L417.9,215.5 L418.6,215.5 L419.2,215.6 L419.9,215.6 L420.6,215.7 L421.2,215.8 L421.9,215.8 L422.6,215.9 L423.2,215.9 L423.9,216 L424.5,216 L425.2,216.1 L425.9,216.1 L426.5,216.2 L427.2,216.3" stroke="#00ff00" stroke-width="3.1" stroke-dasharray="3.5 3.1 9.9 3.7 3.5 3.1 9.9 3.7 3.5 3.1 9.9 3.7 3.5 3.1 9.9 3.7 3.5 3.1 9.9 3.7 3.5 3.1 9.9 3.7 3.5 3.1 9.9 3.7 3.5 3.1 9.9 3.7 3.5 3.1 9.9 3.7 3.5 3.1 9.9 3.7 3.5 3.1 9.9 3.7 3.5 3.1 9.9 3.7 3.5 3.1 9.9 3.7 3.5 3.1 9.9 3.7 3.5 3.1 9.9 3.7 3.5 3.1 9.9 3.7 3.5 3.1 7.45 3.7 3.5 3.1 9.9 3.7 3.5 3.1 9.9 3.7 3.5 3.1 9.9 3.7 3.5 3.1 9.9 3.7 3.5 3.1 9.9 3.7 3.5 3.1 9.9 3.7 3.5 3.1 9.9 3.7 3.5 3.1 9.9 3.7 3.5 3.1 9.9 3.7 3.5 3.1 9.9 3.7 3.5 3.1 9.9 3.7 3.5 3.1 9.9 3.7 3.5 3.1 8.35 0 0 9999"/>
<path d="M61.2,231.2 L61.9,231.3 L62.5,231.3 L63.2,231.3 L63.9,231.3 L64.5,231.3 L65.2,231.3 L65.9,231.3 L66.5,231.3 L67.2,231.3 L67.9,231.3 L68.5,231.3 L69.2,231.3 L69.9,231.3 L70.5,231.3 L71.2,231.3 L71.9,231.3 L72.5,231.3 L73.2,231.3 L73.9,231.3 L74.5,231.3 L75.2,231.4 L75.9,231.4 L76.5,231.4 L77.2,231.4 L77.9,231.4 L78.5,231.4 L79.2,231.4 L79.9,231.4 L80.5,231.4 L81.2,231.4 L81.9,231.4 L82.5,231.4 L83.2,231.4 L83.8,231.4 L84.5,231.4 L85.2,231.4 L85.8,231.4 L86.5,231.4 L87.2,231.4 L87.8,231.4 L88.5,231.4 L89.2,231.4 L89.8,231.4 L90.5,231.4 L91.2,231.4 L91.8,231.4 L92.5,231.4 L93.2,231.4 L93.8,231.4 L94.5,231.4 L95.2,231.4 L95.8,231.4 L96.5,231.4 L97.2,231.4 L97.8,231.4 L98.5,231.5 L99.2,231.5 L99.8,231.5 L100.5,231.5 L101.2,231.5 L101.8,231.5 L102.5,231.5 L103.2,231.5 L103.8,231.5 L104.5,231.5 L105.2,231.5 L105.8,231.5 L106.5,231.5 L107.2,231.5 L107.8,231.5 L108.5,231.5 L109.2,231.5 L109.8,231.5 L110.5,231.5 L111.2,231.5 L111.8,231.5 L112.5,231.5 L113.2,231.5 L113.8,231.5 L114.5,231.5 L115.2,231.5 L115.8,231.5 L116.5,231.5 L117.2,231.5 L117.8,231.5 L118.5,231.5 L119.2,231.5 L119.8,231.5 L120.5,231.5 L121.2,231.5 L121.8,231.5 L122.5,231.5 L123.2,231.5 L123.8,231.5 L124.5,231.5 L125.1,231.5 L125.8,231.5 L126.5,231.5 L127.1,231.5 L127.8,231.5 L128.5,231.5 L129.1,231.5 L129.8,231.5 L130.5,231.5 L131.1,231.5 L131.8,231.5 L132.5,231.5 L133.1,231.5 L133.8,231.5 L134.5,231.5 L135.1,231.5 L135.8,231.5 L136.5,231.5 L137.1,231.5 L137.8,231.5 L138.5,231.5 L139.1,231.5 L139.8,231.5 L140.5,231.5 L141.1,231.5 L141.8,231.5 L142.5,231.5 L143.1,231.5 L143.8,231.5 L144.5,231.5 L145.1,231.5 L145.8,231.5 L146.5,231.5 L147.1,231.5 L147.8,231.5 L148.5,231.5 L149.1,231.5 L149.8,231.5 L150.5,231.5 L151.1,231.5 L151.8,231.5 L152.5,231.5 L153.1,231.5 L153.8,231.5 L154.5,231.5 L155.1,231.5 L155.8,231.5 L156.5,231.5 L157.1,231.5 L157.8,231.5 L158.5,231.5 L159.1,231.5 L159.8,231.5 L160.5,231.5 L161.1,231.5 L161.8,231.5 L162.5,231.5 L163.1,231.5 L163.8,231.5 L164.5,231.5 L165.1,231.5 L165.8,231.5 L166.5,231.4 L167.1,231.4 L167.8,231.4 L168.5,231.4 L169.1,231.4 L169.8,231.4 L170.4,231.4 L171.1,231.4 L171.8,231.4 L172.4,231.4 L173.1,231.4 L173.8,231.4 L174.4,231.4 L175.1,231.4 L175.8,231.4 L176.4,231.4 L177.1,231.4 L177.8,231.4 L178.4,231.4 L179.1,231.3 L179.8,231.3 L180.4,231.3 L181.1,231.3 L181.8,231.3 L182.4,231.3 L183.1,231.3 L183.8,231.3 L184.4,231.3 L185.1,231.3 L185.8,231.3 L186.4,231.3 L187.1,231.3 L187.8,231.2 L188.4,231.2 L189.1,231.2 L189.8,231.2 L190.4,231.2 L191.1,231.2 L191.8,231.2 L192.4,231.1 L193.1,231.1 L193.8,231.1 L194.4,231.1 L195.1,231.1 L195.8,231 L196.4,231 L197.1,231 L197.8,230.9 L198.4,230.9 L199.1,230.9 L199.8,230.8 L200.4,230.8 L201.1,230.8 L201.8,230.7 L202.4,230.7 L203.1,230.6 L203.7,230.6 L204.4,230.5 L205.1,230.5 L205.7,230.4 L206.4,230.4 L207,230.3 L207.7,230.2 L208.4,230 L209,229.9 L209.7,229.8 L210.3,229.6 L211,229.5 L211.6,229.3 L212.3,229.1 L212.9,229 L213.6,228.8 L214.2,228.6 L214.8,228.5 L215.5,228.3 L216.1,228.1 L216.7,227.8 L217.4,227.6 L218,227.4 L218.6,227.2 L219.3,226.9 L219.9,226.7 L220.5,226.4 L221.1,226.2 L221.7,226 L222.4,225.7 L223,225.5 L223.6,225.3 L224.3,225.1 L224.9,224.8 L225.6,224.6 L226.2,224.4 L226.8,224.1 L227.4,223.9 L228,223.6 L228.6,223.3 L229.1,222.9 L229.6,222.5 L230.1,222.1 L230.6,221.7 L231.1,221.2 L231.5,220.7 L232,220.1 L232.4,219.6 L232.9,219.1 L233.3,218.6 L233.7,218.1 L234.2,217.6 L234.6,217.1 L235.1,216.6 L235.5,216.1 L235.9,215.5 L236.3,215 L236.6,214.4 L236.9,213.9 L237.2,213.3 L237.5,212.6 L237.8,212 L238.1,211.4 L238.4,210.8 L238.7,210.2 L239,209.6 L239.3,209 L239.6,208.4 L239.8,207.8 L240.1,207.2 L240.3,206.6 L240.5,206 L240.7,205.3 L240.9,204.7 L241.1,204.1 L241.3,203.4 L241.4,202.8 L241.6,202.1 L241.7,201.5 L241.9,200.8 L242,200.1 L242.1,199.5 L242.1,198.8 L242.2,198.2 L242.3,197.5 L242.4,196.8 L242.4,196.2 L242.5,195.5 L242.5,194.8 L242.6,194.2 L242.6,193.5 L242.6,192.8 L242.6,192.2 L242.6,191.5 L242.7,190.9 L242.7,190.2 L242.7,189.5 L242.7,188.9 L242.7,188.2 L242.7,187.5 L242.7,186.9 L242.7,186.2 L242.7,185.5 L242.8,184.9 L242.8,184.2 L242.8,183.5 L242.8,182.9 L242.8,182.2 L242.8,181.5 L242.8,180.9 L242.8,180.2 L242.8,179.5 L242.8,178.9 L242.8,178.2 L242.8,177.5 L242.8,176.9 L242.8,176.2 L242.9,175.5 L242.9,174.9 L242.9,174.2 L242.9,173.5 L242.9,172.9 L242.9,172.2 L242.9,171.5 L242.9,170.9 L242.9,170.2 L242.9,169.5 L242.9,168.9 L242.9,168.2 L242.9,167.5 L242.9,166.9 L242.9,166.2 L242.9,165.5 L242.9,164.9 L242.9,164.2 L243,163.5 L243,162.9 L243,162.2 L243,161.5 L243,160.9 L243,160.2 L243,159.5 L243,158.9 L243,158.2 L243,157.5 L243,156.9 L243,156.2 L243,155.5 L243,154.9 L243,154.2 L243,153.5 L243,152.9 L243,152.2 L243,151.6 L243,150.9 L243,150.2 L243,149.6 L243,148.9 L243,148.2 L243.1,147.6 L243.1,146.9 L243.1,146.2 L243.1,145.6 L243.1,144.9 L243.1,144.2 L243.1,143.6 L243.1,142.9 L243.1,142.2 L243.1,141.6 L243.1,140.9 L243.1,140.2 L243.1,139.6 L243.1,138.9 L243.1,138.2 L243.1,137.6 L243.1,136.9 L243.1,136.2 L243.1,135.6 L243.1,134.9 L243.1,134.2 L243.1,133.6 L243.1,132.9 L243.1,132.2 L243.1,131.6 L243.1,130.9 L243.1,130.2 L243.1,129.6 L243.1,128.9 L243.2,128.2 L243.2,127.6 L243.2,126.9 L243.2,126.2 L243.2,125.6 L243.2,124.9 L243.2,124.2 L243.2,123.6 L243.2,122.9 L243.2,122.2 L243.2,121.6 L243.2,120.9 L243.2,120.2 L243.2,119.6 L243.2,118.9 L243.2,118.2 L243.2,117.6 L243.2,116.9 L243.2,116.2 L243.2,115.6 L243.2,114.9 L243.2,114.2 L243.2,113.6 L243.2,112.9 L243.2,112.2 L243.2,111.6 L243.3,110.9 L243.3,110.3 L243.3,109.6 L243.3,108.9 L243.3,108.3 L243.3,107.6 L243.3,106.9 L243.3,106.3 L243.3,105.6 L243.3,104.9 L243.3,104.3 L243.3,103.6 L243.3,102.9 L243.3,102.3 L243.3,101.6 L243.3,100.9 L243.3,100.3 L243.3,99.6 L243.3,98.9 L243.3,98.3 L243.3,97.6 L243.3,96.9 L243.3,96.3 L243.3,95.6 L243.3,94.9 L243.3,94.3 L243.3,93.6 L243.4,92.9 L243.4,92.3 L243.4,91.6 L243.4,90.9 L243.4,90.3 L243.4,89.6 L243.4,88.9 L243.4,88.3 L243.4,87.6 L243.4,86.9 L243.4,86.3 L243.4,85.6 L243.4,84.9 L243.4,84.3 L243.4,83.6 L243.4,82.9 L243.4,82.3 L243.4,81.6 L243.4,80.9 L243.4,80.3 L243.4,79.6 L243.4,78.9 L243.4,78.3 L243.4,77.6 L243.5,76.9 L243.5,76.3 L243.5,75.6 L243.5,74.9 L243.5,74.3 L243.5,73.6 L243.5,72.9 L243.5,72.3 L243.5,71.6 L243.5,70.9 L243.5,70.3 L243.5,69.6 L243.5,69 L243.5,68.3 L243.5,67.6 L243.5,67 L243.5,66.3 L243.5,65.6 L243.5,65 L243.5,64.3 L243.5,63.6 L243.5,63 L243.6,62.3 L243.6,61.6 L243.6,61 L243.6,60.3 L243.6,59.6 L243.6,59 L243.6,58.3 L243.6,57.6 L243.6,57 L243.6,56.3 L243.6,55.6 L243.6,55 L243.6,54.3 L243.6,53.6 L243.6,53 L243.6,52.3 L243.6,51.6 L243.6,51 L243.6,50.3 L243.6,49.6 L243.7,49 L243.7,48.3 L243.7,47.6 L243.7,47 L243.7,46.3 L243.7,45.6 L243.7,45 L243.7,44.3 L243.7,43.6 L243.7,43 L243.7,42.3 L243.7,41.6 L243.8,41 L243.8,40.3 L243.8,39.6 L243.8,39 L243.8,38.3 L243.8,37.6 L243.8,37 L243.8,36.3 L243.9,35.6 L243.9,35 L243.9,34.3 L243.9,33.6 L244,33 L244,32.3 L244,31.7 L244.1,31 L244.1,30.3 L244.1,29.7 L244.2,29 L244.2,28.3 L244.2,27.7 L244.3,27 L244.3,26.3 L244.4,25.7 L244.4,25 L244.5,25.7 L244.6,26.3 L244.7,27 L244.8,27.6 L244.9,28.3 L244.9,29 L245,29.6 L245.1,30.3 L245.2,30.9 L245.3,31.6 L245.4,32.2 L245.5,32.9 L245.6,33.6 L245.7,34.2 L245.8,34.9 L245.9,35.5 L246.1,36.2 L246.2,36.8 L246.3,37.5 L246.4,38.2 L246.5,38.8 L246.6,39.5 L246.7,40.1 L246.8,40.8 L246.9,41.4 L247,42.1 L247.2,42.7 L247.3,43.4 L247.4,44.1 L247.5,44.7 L247.6,45.4 L247.7,46 L247.9,46.7 L248,47.3 L248.1,48 L248.2,48.6 L248.4,49.3 L248.5,49.9 L248.6,50.6 L248.8,51.2 L248.9,51.9 L249,52.5 L249.2,53.2 L249.3,53.8 L249.5,54.5 L249.7,55.1 L249.8,55.8 L250,56.4 L250.2,57.1 L250.3,57.7 L250.5,58.3 L250.7,59 L250.9,59.6 L251.1,60.3 L251.3,60.9 L251.4,61.5 L251.6,62.2 L251.8,62.8 L252,63.4 L252.2,64.1 L252.4,64.7 L252.6,65.4 L252.8,66 L252.9,66.6 L253.1,67.3 L253.3,67.9 L253.5,68.6 L253.6,69.2 L253.8,69.9 L253.9,70.5 L254.1,71.2 L254.3,71.8 L254.4,72.5 L254.6,73.1 L254.7,73.8 L254.9,74.4 L255,75.1 L255.2,75.7 L255.3,76.4 L255.5,77 L255.6,77.7 L255.8,78.3 L255.9,79 L256.1,79.6 L256.3,80.3 L256.4,80.9 L256.6,81.5 L256.8,82.2 L257,82.8 L257.1,83.5 L257.3,84.1 L257.5,84.7 L257.7,85.3 L257.9,86 L258.1,86.6 L258.4,87.2 L258.6,87.8 L258.9,88.4 L259.1,89 L259.4,89.7 L259.7,90.3 L260,90.9 L260.3,91.5 L260.6,92.1 L260.9,92.7 L261.1,93.3 L261.4,93.9 L261.7,94.5 L261.9,95.1 L262.2,95.7 L262.5,96.3 L262.7,96.9 L263,97.5 L263.3,98.1 L263.5,98.8 L263.8,99.4 L264.1,100 L264.3,100.6 L264.6,101.2 L264.9,101.8 L265.1,102.4 L265.4,103 L265.7,103.6 L266,104.2 L266.2,104.8 L266.5,105.4 L266.8,106 L267.1,106.6 L267.4,107.2 L267.6,107.8 L267.9,108.4 L268.2,109.1 L268.5,109.7 L268.8,110.3 L269.1,110.9 L269.3,111.5 L269.6,112.1 L269.9,112.7 L270.2,113.3 L270.5,113.9 L270.8,114.5 L271.1,115.1 L271.4,115.7 L271.7,116.2 L272,116.8 L272.3,117.4 L272.6,118 L273,118.6 L273.3,119.2 L273.6,119.7 L274,120.3 L274.3,120.8 L274.7,121.4 L275,122 L275.4,122.5 L275.8,123.1 L276.2,123.6 L276.5,124.1 L276.9,124.7 L277.3,125.2 L277.7,125.8 L278.1,126.3 L278.5,126.8 L278.9,127.4 L279.3,127.9 L279.7,128.5 L280.1,129 L280.5,129.5 L280.9,130.1 L281.3,130.6 L281.7,131.2 L282,131.7 L282.4,132.2 L282.8,132.8 L283.2,133.4 L283.5,133.9 L283.9,134.5 L284.3,135 L284.6,135.6 L285,136.1 L285.4,136.7 L285.7,137.3 L286.1,137.8 L286.4,138.4 L286.8,138.9 L287.2,139.5 L287.6,140 L287.9,140.6 L288.3,141.1 L288.7,141.7 L289.1,142.2 L289.5,142.7 L289.9,143.2 L290.3,143.7 L290.8,144.3 L291.2,144.8 L291.6,145.3 L292,145.8 L292.5,146.3 L292.9,146.8 L293.4,147.3 L293.8,147.8 L294.3,148.3 L294.7,148.8 L295.2,149.3 L295.6,149.8 L296.1,150.2 L296.5,150.7 L297,151.2 L297.5,151.7 L298,152.1 L298.4,152.6 L298.9,153.1 L299.4,153.5 L299.9,154 L300.4,154.4 L300.9,154.9 L301.3,155.3 L301.8,155.7 L302.3,156.2 L302.9,156.6 L303.4,157 L303.9,157.4 L304.4,157.8 L304.9,158.3 L305.5,158.7 L306,159.1 L306.5,159.5 L307.1,159.9 L307.6,160.3 L308.1,160.7 L308.7,161 L309.2,161.4 L309.8,161.8 L310.3,162.2 L310.8,162.6 L311.4,163 L311.9,163.4 L312.4,163.8 L313,164.2 L313.5,164.6 L314,165 L314.6,165.4 L315.1,165.8 L315.6,166.2 L316.2,166.6 L316.7,167 L317.3,167.4 L317.8,167.8 L318.4,168.2 L318.9,168.5 L319.4,168.9 L320,169.3 L320.5,169.7 L321.1,170 L321.7,170.4 L322.2,170.7 L322.8,171.1 L323.4,171.4 L323.9,171.7 L324.5,172.1 L325.1,172.4 L325.7,172.7 L326.3,173 L326.8,173.3 L327.4,173.6 L328,173.9 L328.6,174.2 L329.2,174.5 L329.8,174.8 L330.4,175 L331.1,175.3 L331.7,175.6 L332.3,175.9 L332.9,176.2 L333.5,176.5 L334.1,176.8 L334.7,177.1 L335.2,177.4 L335.8,177.7 L336.4,178 L337,178.3 L337.6,178.6 L338.2,179 L338.7,179.3 L339.3,179.6 L339.9,180 L340.5,180.3 L341.1,180.6 L341.6,181 L342.2,181.3 L342.8,181.6 L343.4,181.9 L344,182.2 L344.6,182.5 L345.1,182.8 L345.7,183.1 L346.4,183.4 L347,183.7 L347.6,183.9 L348.2,184.2 L348.8,184.4 L349.4,184.7 L350,185 L350.6,185.2 L351.3,185.5 L351.9,185.7 L352.5,185.9 L353.1,186.2 L353.7,186.4 L354.4,186.7 L355,186.9 L355.6,187.2 L356.2,187.4 L356.8,187.6 L357.5,187.9 L358.1,188.1 L358.7,188.4 L359.3,188.6 L359.9,188.8 L360.6,189.1 L361.2,189.3 L361.8,189.5 L362.4,189.8 L363.1,190 L363.7,190.2 L364.3,190.4 L365,190.7 L365.6,190.9 L366.2,191.1 L366.8,191.3 L367.5,191.6 L368.1,191.8 L368.7,192 L369.4,192.2 L370,192.4 L370.6,192.6 L371.3,192.8 L371.9,193 L372.5,193.2 L373.2,193.4 L373.8,193.6 L374.4,193.8 L375.1,194 L375.7,194.1 L376.3,194.3 L377,194.5 L377.6,194.7 L378.3,194.8 L378.9,195 L379.5,195.2 L380.2,195.3 L380.8,195.5 L381.5,195.7 L382.1,195.8 L382.8,196 L383.4,196.1 L384.1,196.3 L384.7,196.4 L385.4,196.6 L386,196.7 L386.7,196.9 L387.3,197 L388,197.1 L388.6,197.3 L389.3,197.4 L389.9,197.6 L390.6,197.7 L391.2,197.8 L391.9,198 L392.5,198.1 L393.2,198.2 L393.8,198.4 L394.5,198.5 L395.1,198.6 L395.8,198.8 L396.4,198.9 L397.1,199 L397.7,199.2 L398.4,199.3 L399.1,199.4 L399.7,199.5 L400.4,199.7 L401,199.8 L401.7,199.9 L402.3,200.1 L403,200.2 L403.6,200.3 L404.3,200.4 L404.9,200.6 L405.6,200.7 L406.2,200.8 L406.9,200.9 L407.5,201.1 L408.2,201.2 L408.9,201.3 L409.5,201.4 L410.2,201.5 L410.8,201.6 L411.5,201.8 L412.1,201.9 L412.8,202 L413.4,202.1 L414.1,202.2 L414.7,202.3 L415.4,202.5 L416.1,202.6 L416.7,202.7 L417.4,202.8 L418,202.9 L418.7,203 L419.3,203.1 L420,203.3 L420.6,203.4 L421.3,203.5 L422,203.6 L422.6,203.7 L423.3,203.8 L423.9,203.9 L424.6,204 L425.2,204.2 L425.9,204.3 L426.5,204.4 L427.2,204.5" stroke="#000000" stroke-width="3.1" stroke-dasharray="3.4 3.25 3.4 3.25 9.9 3.45 3.4 3.25 3.4 3.25 9.9 3.45 3.4 3.25 3.4 3.25 9.9 3.45 3.4 3.25 3.4 3.25 9.9 3.45 3.4 3.25 3.4 3.25 9.9 3.45 3.4 3.25 3.4 3.25 9.9 3.45 3.4 3.25 3.4 3.25 9.9 3.45 3.4 3.25 3.4 3.25 9.9 3.45 3.4 3.25 3.4 3.25 9.9 3.45 3.4 3.25 3.4 3.25 9.9 3.45 3.4 3.25 3.4 3.25 9.9 3.45 3.4 3.25 3.4 3.25 9.9 3.45 3.4 3.25 3.4 3.25 9.9 3.45 3.4 3.25 3.4 3.25 9.9 3.6 3.6 3.2 3.6 3.3 9.8 3.3 3.6 3.2 3.6 3.35 9.8 3.3 3.6 3.2 3.6 3.35 9.8 3.3 3.6 3.2 3.6 3.3 9.8 3.3 3.6 3.2 3.6 3.35 9.8 3.3 3.6 3.2 3.6 3.3 9.8 3.3 3.6 3.2 3.6 3.35 9.8 3.3 3.6 3.2 3.6 3.35 9.8 3.3 3.6 3.2 3.6 3.3 9.8 3.3 3.6 3.2 3.6 3.35 9.8 3.3 3.6 3.2 3.6 2.1 0 9999"/>
<path d="M61.9,232.5 L62.6,232.5 L63.2,232.5 L63.9,232.5 L64.6,232.5 L65.2,232.5 L65.9,232.5 L66.6,232.5 L67.2,232.5 L67.9,232.5 L68.6,232.5 L69.2,232.5 L69.9,232.5 L70.6,232.5 L71.2,232.5 L71.9,232.5 L72.6,232.5 L73.2,232.5 L73.9,232.5 L74.6,232.5 L75.2,232.5 L75.9,232.5 L76.6,232.5 L77.2,232.5 L77.9,232.5 L78.6,232.5 L79.3,232.5 L79.9,232.5 L80.6,232.5 L81.3,232.5 L81.9,232.5 L82.6,232.5 L83.3,232.5 L83.9,232.5 L84.6,232.5 L85.3,232.5 L85.9,232.5 L86.6,232.5 L87.3,232.5 L87.9,232.5 L88.6,232.5 L89.3,232.5 L89.9,232.5 L90.6,232.5 L91.3,232.5 L91.9,232.5 L92.6,232.5 L93.3,232.5 L93.9,232.5 L94.6,232.5 L95.3,232.5 L95.9,232.5 L96.6,232.5 L97.3,232.5 L97.9,232.5 L98.6,232.5 L99.3,232.5 L99.9,232.5 L100.6,232.5 L101.3,232.5 L101.9,232.5 L102.6,232.5 L103.3,232.5 L103.9,232.5 L104.6,232.5 L105.3,232.5 L105.9,232.5 L106.6,232.5 L107.2,232.5 L107.9,232.5 L108.6,232.5 L109.2,232.5 L109.9,232.5 L110.6,232.5 L111.2,232.5 L111.9,232.5 L112.6,232.5 L113.2,232.5 L113.9,232.5 L114.6,232.5 L115.2,232.5 L115.9,232.5 L116.6,232.5 L117.2,232.5 L117.9,232.5 L118.6,232.5 L119.2,232.5 L119.9,232.5 L120.6,232.5 L121.2,232.5 L121.9,232.5 L122.6,232.5 L123.2,232.5 L123.9,232.5 L124.6,232.5 L125.2,232.5 L125.9,232.5 L126.6,232.5 L127.2,232.5 L127.9,232.5 L128.6,232.5 L129.2,232.5 L129.9,232.5 L130.6,232.5 L131.2,232.5 L131.9,232.5 L132.6,232.5 L133.2,232.5 L133.9,232.5 L134.6,232.5 L135.2,232.5 L135.9,232.5 L136.5,232.5 L137.2,232.5 L137.9,232.5 L138.5,232.5 L139.2,232.5 L139.9,232.5 L140.5,232.5 L141.2,232.5 L141.9,232.5 L142.5,232.5 L143.2,232.5 L143.9,232.5 L144.5,232.5 L145.2,232.5 L145.9,232.5 L146.5,232.5 L147.2,232.5 L147.9,232.5 L148.5,232.5 L149.2,232.5 L149.9,232.5 L150.5,232.5 L151.2,232.5 L151.9,232.5 L152.5,232.5 L153.2,232.5 L153.9,232.4 L154.5,232.4 L155.2,232.4 L155.8,232.4 L156.5,232.3 L157.2,232.3 L157.8,232.2 L158.5,232.2 L159.2,232.2 L159.8,232.1 L160.5,232.1 L161.2,232 L161.8,232 L162.5,231.9 L163.2,231.9 L163.8,231.8 L164.5,231.7 L165.2,231.7 L165.8,231.6 L166.5,231.6 L167.2,231.5 L167.8,231.4 L168.5,231.4 L169.1,231.3 L169.8,231.2 L170.5,231.2 L171.1,231.1 L171.8,231 L172.5,231 L173.1,230.9 L173.8,230.9 L174.5,230.8 L175.1,230.7 L175.8,230.7 L176.4,230.6 L177.1,230.6 L177.8,230.5 L178.4,230.4 L179.1,230.4 L179.8,230.3 L180.4,230.2 L181.1,230.2 L181.8,230.1 L182.4,230 L183.1,229.9 L183.8,229.9 L184.4,229.8 L185.1,229.7 L185.7,229.6 L186.4,229.6 L187.1,229.5 L187.7,229.4 L188.4,229.3 L189.1,229.2 L189.7,229.1 L190.4,229 L191,229 L191.7,228.9 L192.4,228.8 L193,228.7 L193.7,228.6 L194.3,228.5 L195,228.4 L195.7,228.3 L196.3,228.1 L197,228 L197.6,227.9 L198.3,227.8 L198.9,227.7 L199.6,227.6 L200.2,227.5 L200.9,227.3 L201.5,227.2 L202.2,227.1 L202.8,226.9 L203.5,226.8 L204.1,226.6 L204.8,226.4 L205.4,226.3 L206.1,226.1 L206.7,225.9 L207.4,225.7 L208,225.5 L208.7,225.3 L209.3,225.1 L209.9,224.9 L210.6,224.7 L211.2,224.5 L211.8,224.3 L212.4,224 L213.1,223.8 L213.7,223.6 L214.3,223.3 L214.9,223 L215.5,222.8 L216.1,222.4 L216.6,222.1 L217.2,221.8 L217.8,221.4 L218.4,221.1 L218.9,220.7 L219.5,220.4 L220.1,220.1 L220.7,219.7 L221.3,219.4 L221.9,219.1 L222.5,218.9 L223.1,218.6 L223.7,218.4 L224.4,218.2 L225,217.9 L225.6,217.7 L226.2,217.4 L226.8,217.1 L227.3,216.7 L227.9,216.3 L228.4,215.9 L228.9,215.5 L229.4,215 L229.9,214.6 L230.4,214.1 L230.9,213.6 L231.4,213.2 L231.8,212.7 L232.3,212.2 L232.7,211.7 L233.2,211.2 L233.6,210.7 L234,210.1 L234.3,209.6 L234.6,209 L235,208.4 L235.3,207.8 L235.6,207.2 L235.9,206.6 L236.1,206 L236.4,205.4 L236.7,204.8 L237,204.2 L237.2,203.6 L237.5,203 L237.8,202.4 L238.1,201.8 L238.3,201.1 L238.6,200.5 L238.9,199.9 L239.1,199.3 L239.4,198.7 L239.6,198.1 L239.8,197.4 L240,196.8 L240.2,196.1 L240.3,195.5 L240.5,194.9 L240.7,194.2 L240.8,193.6 L241,192.9 L241.2,192.3 L241.3,191.6 L241.5,191 L241.6,190.3 L241.8,189.7 L241.9,189 L242,188.3 L242,187.7 L242.1,187 L242.1,186.4 L242.1,185.7 L242.2,185 L242.2,184.4 L242.2,183.7 L242.3,183.1 L242.3,182.4 L242.3,181.7 L242.4,181.1 L242.4,180.4 L242.4,179.7 L242.4,179.1 L242.4,178.4 L242.5,177.7 L242.5,177 L242.5,176.4 L242.5,175.7 L242.5,175 L242.5,174.4 L242.5,173.7 L242.6,173 L242.6,172.4 L242.6,171.7 L242.6,171 L242.6,170.4 L242.6,169.7 L242.6,169 L242.6,168.4 L242.6,167.7 L242.6,167 L242.6,166.4 L242.7,165.7 L242.7,165 L242.7,164.4 L242.7,163.7 L242.7,163 L242.7,162.4 L242.7,161.7 L242.7,161 L242.7,160.4 L242.7,159.7 L242.7,159 L242.7,158.4 L242.7,157.7 L242.7,157 L242.8,156.4 L242.8,155.7 L242.8,155 L242.8,154.4 L242.8,153.7 L242.8,153 L242.8,152.4 L242.8,151.7 L242.8,151 L242.8,150.4 L242.8,149.7 L242.8,149 L242.8,148.4 L242.8,147.7 L242.8,147 L242.8,146.4 L242.8,145.7 L242.8,145.1 L242.8,144.4 L242.8,143.7 L242.9,143.1 L242.9,142.4 L242.9,141.7 L242.9,141.1 L242.9,140.4 L242.9,139.7 L242.9,139.1 L242.9,138.4 L242.9,137.7 L242.9,137.1 L242.9,136.4 L242.9,135.7 L242.9,135.1 L242.9,134.4 L242.9,133.7 L242.9,133.1 L242.9,132.4 L242.9,131.7 L242.9,131.1 L242.9,130.4 L242.9,129.7 L242.9,129.1 L242.9,128.4 L242.9,127.7 L243,127.1 L243,126.4 L243,125.7 L243,125.1 L243,124.4 L243,123.7 L243,123.1 L243,122.4 L243,121.7 L243,121.1 L243,120.4 L243,119.7 L243,119.1 L243,118.4 L243,117.7 L243,117.1 L243,116.4 L243,115.7 L243,115.1 L243,114.4 L243,113.7 L243.1,113.1 L243.1,112.4 L243.1,111.7 L243.1,111.1 L243.1,110.4 L243.1,109.7 L243.1,109.1 L243.1,108.4 L243.1,107.7 L243.1,107.1 L243.1,106.4 L243.1,105.7 L243.1,105.1 L243.1,104.4 L243.1,103.7 L243.1,103.1 L243.1,102.4 L243.1,101.7 L243.1,101.1 L243.1,100.4 L243.2,99.7 L243.2,99.1 L243.2,98.4 L243.2,97.7 L243.2,97.1 L243.2,96.4 L243.2,95.7 L243.2,95.1 L243.2,94.4 L243.2,93.7 L243.2,93.1 L243.2,92.4 L243.2,91.7 L243.2,91.1 L243.2,90.4 L243.2,89.7 L243.2,89.1 L243.2,88.4 L243.2,87.7 L243.2,87.1 L243.3,86.4 L243.3,85.7 L243.3,85.1 L243.3,84.4 L243.3,83.7 L243.3,83.1 L243.3,82.4 L243.3,81.7 L243.3,81.1 L243.3,80.4 L243.3,79.7 L243.3,79.1 L243.3,78.4 L243.3,77.7 L243.3,77.1 L243.3,76.4 L243.3,75.7 L243.3,75.1 L243.3,74.4 L243.3,73.7 L243.3,73.1 L243.3,72.4 L243.4,71.7 L243.4,71.1 L243.4,70.4 L243.4,69.8 L243.4,69.1 L243.4,68.4 L243.4,67.8 L243.4,67.1 L243.4,66.4 L243.4,65.8 L243.4,65.1 L243.4,64.4 L243.4,63.8 L243.4,63.1 L243.4,62.4 L243.4,61.8 L243.4,61.1 L243.4,60.4 L243.4,59.8 L243.4,59.1 L243.4,58.4 L243.4,57.8 L243.4,57.1 L243.4,56.4 L243.4,55.8 L243.4,55.1 L243.4,54.4 L243.5,53.8 L243.5,53.1 L243.5,52.4 L243.5,51.8 L243.5,51.1 L243.5,50.4 L243.5,49.8 L243.5,49.1 L243.5,48.4 L243.5,47.8 L243.5,47.1 L243.5,46.4 L243.5,45.8 L243.5,45.1 L243.5,44.4 L243.5,43.8 L243.6,43.1 L243.6,42.4 L243.6,41.8 L243.6,41.1 L243.6,40.4 L243.6,39.8 L243.6,39.1 L243.6,38.4 L243.6,37.8 L243.7,37.1 L243.7,36.4 L243.7,35.8 L243.7,35.1 L243.8,34.4 L243.8,33.8 L243.8,33.1 L243.9,32.4 L243.9,31.8 L243.9,31.1 L244,30.4 L244,29.8 L244.1,29.1 L244.1,28.4 L244.2,27.8 L244.2,27.1 L244.3,26.5 L244.3,25.8 L244.4,25.1 L244.5,24.5 L244.6,23.8 L244.7,23.1 L244.8,22.5 L244.9,21.8 L245.1,21.2 L245.2,20.5 L245.4,19.9 L245.5,19.2 L245.7,18.6 L245.9,17.9 L246.1,17.3 L246.3,16.7 L246.6,16.1 L246.8,15.5 L247.1,14.9 L247.4,14.3 L247.8,13.7 L248.1,13.1 L248.4,13.7 L248.7,14.3 L249,14.9 L249.3,15.5 L249.5,16.1 L249.8,16.7 L250,17.4 L250.3,18 L250.5,18.6 L250.7,19.2 L250.9,19.9 L251.1,20.5 L251.3,21.1 L251.5,21.8 L251.7,22.4 L251.8,23.1 L252,23.7 L252.2,24.4 L252.4,25 L252.5,25.6 L252.7,26.3 L252.9,26.9 L253,27.6 L253.2,28.2 L253.3,28.9 L253.5,29.5 L253.7,30.2 L253.8,30.8 L254,31.5 L254.1,32.1 L254.3,32.8 L254.5,33.4 L254.6,34.1 L254.8,34.7 L254.9,35.3 L255.1,36 L255.3,36.6 L255.5,37.3 L255.7,37.9 L255.9,38.5 L256.2,39.2 L256.4,39.8 L256.6,40.4 L256.8,41 L257,41.7 L257.2,42.3 L257.4,43 L257.6,43.6 L257.7,44.2 L257.9,44.9 L258.1,45.5 L258.3,46.2 L258.4,46.8 L258.6,47.5 L258.8,48.1 L259,48.8 L259.2,49.4 L259.3,50 L259.5,50.7 L259.7,51.3 L259.9,51.9 L260.1,52.6 L260.3,53.2 L260.6,53.8 L260.8,54.5 L261,55.1 L261.2,55.7 L261.5,56.3 L261.7,57 L262,57.6 L262.2,58.2 L262.4,58.8 L262.7,59.4 L263,60.1 L263.2,60.7 L263.5,61.3 L263.7,61.9 L264,62.5 L264.3,63.1 L264.5,63.7 L264.8,64.4 L265.1,65 L265.3,65.6 L265.6,66.2 L265.9,66.8 L266.1,67.4 L266.4,68 L266.7,68.6 L266.9,69.2 L267.2,69.8 L267.5,70.4 L267.8,71.1 L268,71.7 L268.3,72.3 L268.6,72.9 L268.9,73.5 L269.2,74.1 L269.4,74.7 L269.7,75.3 L270,75.9 L270.3,76.5 L270.6,77.1 L270.9,77.7 L271.2,78.3 L271.4,78.9 L271.7,79.5 L272,80.1 L272.3,80.7 L272.6,81.3 L272.9,81.9 L273.2,82.5 L273.5,83.1 L273.8,83.7 L274.1,84.3 L274.4,84.9 L274.7,85.5 L275.1,86 L275.4,86.6 L275.7,87.2 L276,87.8 L276.3,88.4 L276.6,89 L277,89.6 L277.3,90.1 L277.6,90.7 L277.9,91.3 L278.3,91.9 L278.6,92.5 L278.9,93 L279.3,93.6 L279.6,94.2 L279.9,94.8 L280.3,95.3 L280.6,95.9 L281,96.5 L281.3,97.1 L281.7,97.6 L282,98.2 L282.4,98.8 L282.7,99.3 L283.1,99.9 L283.4,100.5 L283.8,101 L284.1,101.6 L284.5,102.2 L284.9,102.7 L285.2,103.3 L285.6,103.8 L285.9,104.4 L286.3,105 L286.7,105.5 L287,106.1 L287.4,106.6 L287.8,107.2 L288.1,107.7 L288.5,108.3 L288.9,108.9 L289.2,109.4 L289.6,110 L290,110.5 L290.4,111.1 L290.7,111.6 L291.1,112.2 L291.5,112.7 L291.9,113.3 L292.3,113.8 L292.6,114.4 L293,114.9 L293.4,115.5 L293.8,116 L294.2,116.6 L294.6,117.1 L295,117.6 L295.4,118.2 L295.8,118.7 L296.2,119.2 L296.6,119.7 L297,120.2 L297.5,120.8 L297.9,121.3 L298.3,121.8 L298.7,122.3 L299.2,122.8 L299.6,123.3 L300,123.8 L300.5,124.3 L300.9,124.7 L301.4,125.2 L301.9,125.7 L302.3,126.2 L302.8,126.7 L303.3,127.1 L303.7,127.6 L304.2,128.1 L304.7,128.6 L305.2,129 L305.6,129.5 L306.1,130 L306.6,130.4 L307.1,130.9 L307.6,131.3 L308.1,131.8 L308.6,132.3 L309.1,132.7 L309.5,133.2 L310,133.6 L310.5,134.1 L311,134.5 L311.5,135 L312,135.4 L312.5,135.9 L313,136.3 L313.5,136.8 L314,137.2 L314.5,137.6 L315,138.1 L315.5,138.5 L316,139 L316.5,139.4 L317,139.8 L317.5,140.3 L318,140.7 L318.6,141.1 L319.1,141.5 L319.6,141.9 L320.1,142.3 L320.7,142.7 L321.2,143.1 L321.7,143.5 L322.3,143.9 L322.8,144.3 L323.3,144.7 L323.9,145 L324.5,145.4 L325,145.8 L325.6,146.1 L326.1,146.5 L326.7,146.9 L327.3,147.2 L327.8,147.6 L328.4,147.9 L329,148.3 L329.5,148.6 L330.1,149 L330.7,149.3 L331.2,149.7 L331.8,150.1 L332.3,150.4 L332.9,150.8 L333.5,151.2 L334,151.5 L334.6,151.9 L335.1,152.3 L335.6,152.7 L336.2,153.1 L336.7,153.5 L337.3,153.9 L337.8,154.2 L338.3,154.6 L338.9,155 L339.4,155.4 L340,155.8 L340.5,156.2 L341.1,156.6 L341.6,157 L342.1,157.4 L342.7,157.7 L343.2,158.1 L343.8,158.5 L344.3,158.9 L344.9,159.2 L345.5,159.6 L346,160 L346.6,160.3 L347.1,160.7 L347.7,161 L348.3,161.4 L348.8,161.8 L349.4,162.1 L350,162.5 L350.5,162.8 L351.1,163.2 L351.7,163.5 L352.3,163.8 L352.8,164.2 L353.4,164.5 L354,164.8 L354.6,165.1 L355.2,165.5 L355.7,165.8 L356.3,166.1 L356.9,166.4 L357.5,166.7 L358.1,166.9 L358.7,167.2 L359.3,167.5 L360,167.8 L360.6,168 L361.2,168.3 L361.8,168.5 L362.4,168.8 L363,169.1 L363.6,169.3 L364.3,169.6 L364.9,169.8 L365.5,170.1 L366.1,170.4 L366.7,170.7 L367.3,170.9 L367.9,171.2 L368.5,171.5 L369.1,171.8 L369.7,172.1 L370.3,172.4 L370.9,172.7 L371.5,173 L372.1,173.3 L372.7,173.6 L373.3,173.9 L373.9,174.2 L374.5,174.5 L375.1,174.7 L375.7,175 L376.3,175.3 L376.9,175.6 L377.5,175.8 L378.1,176.1 L378.8,176.3 L379.4,176.6 L380,176.9 L380.6,177.1 L381.2,177.4 L381.8,177.7 L382.4,177.9 L383.1,178.2 L383.7,178.4 L384.3,178.7 L384.9,178.9 L385.5,179.2 L386.2,179.4 L386.8,179.7 L387.4,179.9 L388,180.2 L388.6,180.4 L389.3,180.7 L389.9,180.9 L390.5,181.1 L391.1,181.4 L391.8,181.6 L392.4,181.8 L393,182.1 L393.6,182.3 L394.3,182.5 L394.9,182.7 L395.5,183 L396.2,183.2 L396.8,183.4 L397.4,183.6 L398.1,183.8 L398.7,184 L399.3,184.2 L400,184.4 L400.6,184.6 L401.2,184.8 L401.9,185 L402.5,185.1 L403.1,185.3 L403.8,185.5 L404.4,185.7 L405.1,185.8 L405.7,186 L406.4,186.2 L407,186.3 L407.6,186.5 L408.3,186.7 L408.9,186.8 L409.6,187 L410.2,187.1 L410.9,187.3 L411.5,187.4 L412.2,187.6 L412.8,187.7 L413.5,187.9 L414.1,188 L414.8,188.2 L415.4,188.3 L416.1,188.4 L416.7,188.6 L417.4,188.7 L418.1,188.9 L418.7,189 L419.4,189.1 L420,189.3 L420.7,189.4 L421.3,189.6 L422,189.7 L422.6,189.8 L423.3,190 L423.9,190.1 L424.6,190.3 L425.2,190.4 L425.9,190.5 L426.5,190.7 L427.2,190.8" stroke="#ff8000" stroke-width="3.1" stroke-dasharray="0 0.1 3.7 2.35 3.7 2.35 3.7 2.35 3.7 2.35 3.7 2.35 3.7 2.35 3.7 2.35 3.7 2.35 3.7 2.35 3.7 2.35 3.7 2.35 3.7 2.35 3.7 2.35 3.7 2.35 3.7 2.35 3.7 2.35 3.7 2.35 3.7 2.35 3.7 2.35 3.7 2.35 3.7 2.35 3.7 2.35 3.7 2.35 3.7 2.35 3.7 2.35 3.7 2.35 3.7 2.35 3.7 2.35 3.7 2.35 3.7 2.35 3.7 2.35 3.7 2.35 3.7 2.35 3.7 2.35 3.7 2.35 3.7 2.35 3.7 2.35 3.7 2.35 3.7 2.35 3.7 2.35 3.7 2.35 3.7 2.35 3.7 2.35 3.7 2.35 3.7 2.35 3.7 2.35 3.7 2.35 3.7 2.35 3.7 2.35 3.7 2.35 3.7 2.35 3.7 2.35 3.7 2.35 3.7 2.35 3.7 2.35 3.7 2.35 3.7 2.35 3.7 2.35 3.7 2.35 3.7 2.35 3.7 2.35 3.7 2.35 3.7 2.35 3.7 2.4 3.7 2.35 3.7 2.35 3.7 2.4 3.7 2.35 3.7 2.35 3.7 2.4 3.7 2.35 3.7 2.35 3.7 2.4 3.7 2.35 3.7 2.35 3.7 2.4 3.7 2.35 3.7 2.35 3.7 2.4 3.7 2.35 3.7 2.35 3.7 2.4 3.7 2.35 3.7 2.35 3.7 2.4 3.7 2.35 3.7 2.35 3.7 2.4 3.7 2.35 3.7 2.35 3.7 2.4 3.7 2.35 3.7 2.35 3.7 2.4 3.7 2.35 3.7 2.35 3.7 2.4 3.7 2.35 3.7 2.4 3.7 2.35 3.7 2.35 3.7 2.4 3.7 2.35 3.7 2.35 3.7 2.4 3.7 2.35 3.7 1.2 0 9999"/>
</g>
<rect x="54.5" y="5.5" width="379.0" height="234.0" fill="none" stroke="#6a6a6a" stroke-width="1"/>
<path d="M80.37,239.5v-2.5M80.37,5.5v2.5M98.54,239.5v-2.5M98.54,5.5v2.5M116.71,239.5v-2.5M116.71,5.5v2.5M134.88,239.5v-2.5M134.88,5.5v2.5M171.22,239.5v-2.5M171.22,5.5v2.5M189.39,239.5v-2.5M189.39,5.5v2.5M207.56,239.5v-2.5M207.56,5.5v2.5M225.73,239.5v-2.5M225.73,5.5v2.5M262.07,239.5v-2.5M262.07,5.5v2.5M280.24,239.5v-2.5M280.24,5.5v2.5M298.41,239.5v-2.5M298.41,5.5v2.5M316.58,239.5v-2.5M316.58,5.5v2.5M352.92,239.5v-2.5M352.92,5.5v2.5M371.09,239.5v-2.5M371.09,5.5v2.5M389.26,239.5v-2.5M389.26,5.5v2.5M407.43,239.5v-2.5M407.43,5.5v2.5M54.5,232.35h4.5M54.5,219.92h4.5M54.5,207.49h4.5M54.5,195.06h4.5M54.5,182.63h4.5M54.5,170.2h4.5M54.5,157.77h4.5M54.5,145.34h4.5M54.5,132.91h4.5M54.5,120.48h4.5M54.5,108.05h4.5M54.5,95.62h4.5M54.5,83.19h4.5M54.5,70.76h4.5M54.5,58.33h4.5M54.5,45.9h4.5M54.5,33.47h4.5M54.5,21.04h4.5M54.5,8.61h4.5M433.5,238.56h-2.2M433.5,226.13h-2.2M433.5,219.92h-2.2M433.5,213.7h-2.2M433.5,207.49h-2.2M433.5,195.06h-2.2M433.5,188.84h-2.2M433.5,182.63h-2.2M433.5,176.41h-2.2M433.5,163.99h-2.2M433.5,157.77h-2.2M433.5,151.56h-2.2M433.5,145.34h-2.2M433.5,132.91h-2.2M433.5,126.69h-2.2M433.5,120.48h-2.2M433.5,114.27h-2.2M433.5,101.84h-2.2M433.5,95.62h-2.2M433.5,89.41h-2.2M433.5,83.19h-2.2M433.5,70.76h-2.2M433.5,64.54h-2.2M433.5,58.33h-2.2M433.5,52.12h-2.2M433.5,39.69h-2.2M433.5,33.47h-2.2M433.5,27.25h-2.2M433.5,21.04h-2.2M433.5,8.61h-2.2" stroke="#6a6a6a" stroke-width="1" fill="none"/>
<path d="M62.2,239.5v-4M62.2,5.5v4M153.05,239.5v-4M153.05,5.5v4M243.9,239.5v-4M243.9,5.5v4M334.75,239.5v-4M334.75,5.5v4M425.6,239.5v-4M425.6,5.5v4M433.5,232.35h-4.5M433.5,201.28h-4.5M433.5,170.2h-4.5M433.5,139.12h-4.5M433.5,108.05h-4.5M433.5,76.97h-4.5M433.5,45.9h-4.5M433.5,14.82h-4.5" stroke="#7c7c7c" stroke-width="1" fill="none"/>
</svg>
<div class="t" style="left:11.90px;top:245.20px;width:100px;font-size:16px;line-height:16px;text-align:center">0.0</div><div class="t" style="left:102.80px;top:245.20px;width:100px;font-size:16px;line-height:16px;text-align:center">0.5</div><div class="t" style="left:193.70px;top:245.20px;width:100px;font-size:16px;line-height:16px;text-align:center">1.0</div><div class="t" style="left:284.60px;top:245.20px;width:100px;font-size:16px;line-height:16px;text-align:center">1.5</div><div class="t" style="left:375.50px;top:245.20px;width:100px;font-size:16px;line-height:16px;text-align:center">2.0</div><div class="t" style="left:-49.40px;top:224.95px;width:100px;font-size:16px;line-height:16px;text-align:right">0</div><div class="t" style="left:-49.40px;top:162.80px;width:100px;font-size:16px;line-height:16px;text-align:right">0.1</div><div class="t" style="left:-49.40px;top:100.65px;width:100px;font-size:16px;line-height:16px;text-align:right">0.2</div><div class="t" style="left:-49.40px;top:38.50px;width:100px;font-size:16px;line-height:16px;text-align:right">0.3</div><div class="t" style="left:194.0px;top:271.4px;width:100px;font-size:17px;line-height:17px;text-align:center;transform:scaleX(1.07)">h</div>
<div class="yl"><span class="q"><b>Q</b><i>1</i></span></div>
</body></html>
